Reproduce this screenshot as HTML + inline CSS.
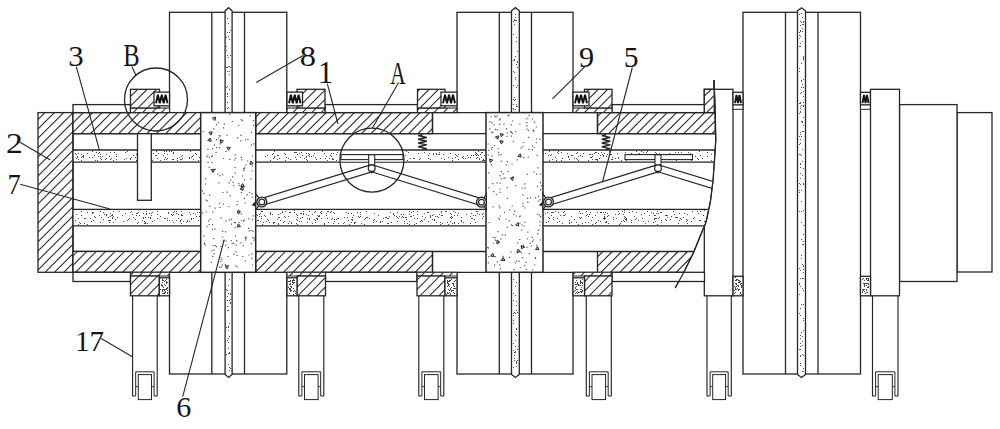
<!DOCTYPE html>
<html><head><meta charset="utf-8"><style>html,body{margin:0;padding:0;background:#fff;overflow:hidden}svg{display:block}</style></head>
<body><svg width="1000" height="429" viewBox="0 0 1000 429"><defs><clipPath id="c1"><rect x="38" y="112.6" width="35" height="159.70000000000002"/></clipPath><clipPath id="c2"><rect x="73" y="112.6" width="127.69999999999999" height="21.099999999999994"/></clipPath><clipPath id="c3"><rect x="255.7" y="112.6" width="176.8" height="21.099999999999994"/></clipPath><clipPath id="c4"><rect x="597.5" y="112.6" width="117.70000000000005" height="21.099999999999994"/></clipPath><clipPath id="c5"><rect x="73" y="251.5" width="127.69999999999999" height="20.80000000000001"/></clipPath><clipPath id="c6"><rect x="255.7" y="251.5" width="176.8" height="20.80000000000001"/></clipPath><clipPath id="cb"><polygon points="597.5,251.5 694.0,251.5 683.8,272.3 597.5,272.3"/></clipPath><clipPath id="ca"><circle cx="371.9" cy="160.1" r="31.5"/></clipPath><clipPath id="cbr"><rect x="530" y="140" width="182" height="80"/></clipPath><clipPath id="c8"><rect x="130.5" y="108" width="39.0" height="4.599999999999994"/></clipPath><clipPath id="c9"><rect x="130.5" y="89.3" width="29.0" height="18.700000000000003"/></clipPath><clipPath id="c10"><rect x="287" y="108" width="38" height="4.599999999999994"/></clipPath><clipPath id="c11"><rect x="297" y="89.3" width="28" height="18.700000000000003"/></clipPath><clipPath id="c12"><rect x="417.5" y="108" width="39.5" height="4.599999999999994"/></clipPath><clipPath id="c13"><rect x="417.5" y="89.3" width="27.5" height="18.700000000000003"/></clipPath><clipPath id="c14"><rect x="573" y="108" width="39" height="4.599999999999994"/></clipPath><clipPath id="c15"><rect x="584.5" y="89.3" width="27.5" height="18.700000000000003"/></clipPath><clipPath id="c16"><rect x="704.3" y="89.3" width="9.900000000000091" height="23.299999999999997"/></clipPath><clipPath id="c17"><rect x="130.5" y="272.3" width="39.0" height="3.6999999999999886"/></clipPath><clipPath id="c18"><rect x="130.5" y="276" width="28.80000000000001" height="19.80000000000001"/></clipPath><clipPath id="c19"><rect x="287" y="272.3" width="38.5" height="3.6999999999999886"/></clipPath><clipPath id="c20"><rect x="297" y="276" width="28.5" height="19.80000000000001"/></clipPath><clipPath id="c21"><rect x="417" y="272.3" width="40" height="3.6999999999999886"/></clipPath><clipPath id="c22"><rect x="417" y="276" width="28" height="19.80000000000001"/></clipPath><clipPath id="c23"><rect x="573" y="272.3" width="39" height="3.6999999999999886"/></clipPath><clipPath id="c24"><rect x="584.5" y="276" width="27.5" height="19.80000000000001"/></clipPath></defs><rect width="1000" height="429" fill="#fff"/><rect x="169.50" y="12.30" width="117.30" height="361.70" fill="#fff" stroke="#262626" stroke-width="1.3"/><line x1="211.80" y1="12.30" x2="211.80" y2="374.00" stroke="#262626" stroke-width="1.3"/><line x1="244.50" y1="12.30" x2="244.50" y2="374.00" stroke="#262626" stroke-width="1.3"/><polygon points="225.1,10.8 228.6,7.7 232.1,10.8 232.1,374.5 228.6,377.5 225.1,374.5" fill="#fff" stroke="#262626" stroke-width="1.3"/><path fill="#555" d="M227 67h1v1h-1zM229 39h1v1h-1zM228 144h1v1h-1zM226 195h1v1h-1zM226 169h1v1h-1zM226 46h1v1h-1zM228 310h1v1h-1zM227 93h1v1h-1zM229 353h1v1h-1zM228 155h1v1h-1zM230 30h1v1h-1zM230 117h1v1h-1zM227 55h1v1h-1zM227 306h1v1h-1zM227 222h1v1h-1zM229 147h1v1h-1zM228 36h1v1h-1zM226 87h1v1h-1zM229 167h1v1h-1zM227 223h1v1h-1zM228 121h1v1h-1zM229 264h1v1h-1zM227 219h1v1h-1zM228 327h1v1h-1zM229 116h1v1h-1zM230 55h1v1h-1zM228 285h1v1h-1zM227 189h1v1h-1zM226 253h1v1h-1zM229 219h1v1h-1zM230 126h1v1h-1zM229 226h1v1h-1zM228 177h1v1h-1zM229 352h1v1h-1zM228 251h1v1h-1zM226 265h1v1h-1zM229 370h1v1h-1zM229 115h1v1h-1zM228 253h1v1h-1zM226 179h1v1h-1zM227 55h1v1h-1zM226 289h1v1h-1zM227 102h1v1h-1zM228 326h1v1h-1zM226 174h1v1h-1zM228 330h1v1h-1zM229 323h1v1h-1zM227 162h1v1h-1zM228 330h1v1h-1zM230 67h1v1h-1zM227 96h1v1h-1zM227 187h1v1h-1zM228 107h1v1h-1zM226 163h1v1h-1zM228 216h1v1h-1zM230 261h1v1h-1zM228 235h1v1h-1zM229 32h1v1h-1zM230 293h1v1h-1zM230 299h1v1h-1zM228 156h1v1h-1zM227 241h1v1h-1zM226 37h1v1h-1zM227 71h1v1h-1zM227 32h1v1h-1zM226 67h1v1h-1zM227 144h1v1h-1zM226 327h1v1h-1zM229 66h1v1h-1zM227 138h1v1h-1zM228 57h1v1h-1zM229 370h1v1h-1zM228 187h1v1h-1zM226 50h1v1h-1zM227 108h1v1h-1zM229 71h1v1h-1zM226 354h1v1h-1zM228 66h1v1h-1zM228 23h1v1h-1zM228 364h1v1h-1zM230 263h1v1h-1zM227 145h1v1h-1zM227 290h1v1h-1zM228 293h1v1h-1zM227 93h1v1h-1zM229 367h1v1h-1zM230 302h1v1h-1zM229 279h1v1h-1zM227 199h1v1h-1zM228 23h1v1h-1zM226 113h1v1h-1zM227 262h1v1h-1zM230 174h1v1h-1zM230 368h1v1h-1zM230 144h1v1h-1zM227 94h1v1h-1zM227 86h1v1h-1zM229 336h1v1h-1zM229 185h1v1h-1zM229 300h1v1h-1zM226 250h1v1h-1zM230 294h1v1h-1zM229 185h1v1h-1zM227 296h1v1h-1zM227 300h1v1h-1zM230 155h1v1h-1zM228 353h1v1h-1zM229 74h1v1h-1zM227 67h1v1h-1zM230 303h1v1h-1zM227 310h1v1h-1zM230 249h1v1h-1zM228 210h1v1h-1zM227 18h1v1h-1zM230 246h1v1h-1zM228 348h1v1h-1zM228 326h1v1h-1zM229 89h1v1h-1zM227 118h1v1h-1zM227 224h1v1h-1zM227 163h1v1h-1zM227 340h1v1h-1zM228 177h1v1h-1zM228 338h1v1h-1zM228 342h1v1h-1zM228 204h1v1h-1z"/><rect x="457.00" y="12.30" width="116.00" height="361.70" fill="#fff" stroke="#262626" stroke-width="1.3"/><line x1="499.30" y1="12.30" x2="499.30" y2="374.00" stroke="#262626" stroke-width="1.3"/><line x1="531.50" y1="12.30" x2="531.50" y2="374.00" stroke="#262626" stroke-width="1.3"/><polygon points="511.5,10.8 515.4,7.7 519.3,10.8 519.3,374.5 515.4,377.5 511.5,374.5" fill="#fff" stroke="#262626" stroke-width="1.3"/><path fill="#555" d="M515 20h1v1h-1zM515 79h1v1h-1zM513 300h1v1h-1zM513 183h1v1h-1zM516 213h1v1h-1zM514 199h1v1h-1zM515 295h1v1h-1zM513 214h1v1h-1zM514 112h1v1h-1zM516 195h1v1h-1zM515 286h1v1h-1zM517 172h1v1h-1zM515 194h1v1h-1zM515 262h1v1h-1zM515 204h1v1h-1zM515 351h1v1h-1zM516 328h1v1h-1zM517 106h1v1h-1zM515 352h1v1h-1zM517 62h1v1h-1zM513 172h1v1h-1zM513 99h1v1h-1zM513 253h1v1h-1zM516 335h1v1h-1zM513 270h1v1h-1zM516 64h1v1h-1zM517 360h1v1h-1zM514 355h1v1h-1zM514 188h1v1h-1zM517 312h1v1h-1zM513 168h1v1h-1zM515 135h1v1h-1zM513 127h1v1h-1zM516 20h1v1h-1zM515 171h1v1h-1zM513 132h1v1h-1zM515 197h1v1h-1zM513 367h1v1h-1zM516 362h1v1h-1zM513 108h1v1h-1zM513 293h1v1h-1zM514 60h1v1h-1zM515 340h1v1h-1zM516 106h1v1h-1zM513 343h1v1h-1zM515 264h1v1h-1zM513 34h1v1h-1zM516 166h1v1h-1zM513 350h1v1h-1zM516 301h1v1h-1zM513 320h1v1h-1zM513 323h1v1h-1zM515 135h1v1h-1zM515 346h1v1h-1zM514 59h1v1h-1zM515 99h1v1h-1zM513 71h1v1h-1zM513 85h1v1h-1zM514 122h1v1h-1zM516 117h1v1h-1zM515 77h1v1h-1zM514 20h1v1h-1zM514 19h1v1h-1zM516 211h1v1h-1zM513 183h1v1h-1zM517 51h1v1h-1zM516 168h1v1h-1zM515 313h1v1h-1zM514 195h1v1h-1zM516 366h1v1h-1zM514 312h1v1h-1zM516 241h1v1h-1zM514 138h1v1h-1zM513 60h1v1h-1zM513 279h1v1h-1zM514 72h1v1h-1zM513 315h1v1h-1zM517 254h1v1h-1zM514 100h1v1h-1zM514 178h1v1h-1zM513 173h1v1h-1zM514 358h1v1h-1zM517 209h1v1h-1zM514 360h1v1h-1zM514 141h1v1h-1zM513 150h1v1h-1zM515 193h1v1h-1zM513 194h1v1h-1zM513 108h1v1h-1zM513 156h1v1h-1zM513 21h1v1h-1zM514 97h1v1h-1zM515 203h1v1h-1zM516 249h1v1h-1zM516 329h1v1h-1zM514 130h1v1h-1zM517 67h1v1h-1zM516 244h1v1h-1zM513 313h1v1h-1zM517 238h1v1h-1zM516 305h1v1h-1zM513 201h1v1h-1zM515 313h1v1h-1zM516 310h1v1h-1zM515 334h1v1h-1zM516 262h1v1h-1zM514 24h1v1h-1zM513 142h1v1h-1zM513 313h1v1h-1zM515 238h1v1h-1zM516 257h1v1h-1zM515 14h1v1h-1zM516 282h1v1h-1zM515 205h1v1h-1zM516 37h1v1h-1zM516 104h1v1h-1zM513 108h1v1h-1zM516 87h1v1h-1zM516 363h1v1h-1zM515 150h1v1h-1zM515 258h1v1h-1zM516 234h1v1h-1zM516 41h1v1h-1zM513 104h1v1h-1zM516 122h1v1h-1zM515 17h1v1h-1zM513 109h1v1h-1zM516 261h1v1h-1zM516 117h1v1h-1zM515 180h1v1h-1zM515 56h1v1h-1zM517 85h1v1h-1zM517 349h1v1h-1zM513 178h1v1h-1zM516 361h1v1h-1zM515 109h1v1h-1zM514 352h1v1h-1zM514 222h1v1h-1zM513 201h1v1h-1zM517 61h1v1h-1zM516 196h1v1h-1z"/><rect x="743.00" y="12.30" width="117.50" height="361.70" fill="#fff" stroke="#262626" stroke-width="1.3"/><line x1="785.50" y1="12.30" x2="785.50" y2="374.00" stroke="#262626" stroke-width="1.3"/><line x1="818.00" y1="12.30" x2="818.00" y2="374.00" stroke="#262626" stroke-width="1.3"/><polygon points="797.5,10.8 801.5,7.7 805.5,10.8 805.5,374.5 801.5,377.5 797.5,374.5" fill="#fff" stroke="#262626" stroke-width="1.3"/><path fill="#555" d="M803 265h1v1h-1zM800 335h1v1h-1zM801 22h1v1h-1zM799 190h1v1h-1zM801 121h1v1h-1zM799 136h1v1h-1zM800 315h1v1h-1zM799 283h1v1h-1zM803 56h1v1h-1zM803 269h1v1h-1zM803 117h1v1h-1zM800 154h1v1h-1zM803 225h1v1h-1zM800 167h1v1h-1zM800 30h1v1h-1zM799 313h1v1h-1zM800 349h1v1h-1zM800 108h1v1h-1zM801 81h1v1h-1zM800 356h1v1h-1zM803 304h1v1h-1zM802 341h1v1h-1zM803 210h1v1h-1zM802 31h1v1h-1zM802 175h1v1h-1zM802 244h1v1h-1zM800 31h1v1h-1zM803 59h1v1h-1zM801 136h1v1h-1zM800 278h1v1h-1zM803 106h1v1h-1zM802 121h1v1h-1zM801 155h1v1h-1zM799 71h1v1h-1zM800 338h1v1h-1zM801 92h1v1h-1zM803 371h1v1h-1zM801 63h1v1h-1zM799 46h1v1h-1zM800 46h1v1h-1zM800 106h1v1h-1zM801 332h1v1h-1zM802 161h1v1h-1zM801 201h1v1h-1zM800 134h1v1h-1zM799 113h1v1h-1zM803 58h1v1h-1zM801 239h1v1h-1zM803 91h1v1h-1zM800 102h1v1h-1zM800 173h1v1h-1zM803 318h1v1h-1zM803 21h1v1h-1zM799 268h1v1h-1zM803 183h1v1h-1zM801 13h1v1h-1zM800 346h1v1h-1zM803 320h1v1h-1zM803 102h1v1h-1zM799 68h1v1h-1zM801 258h1v1h-1zM803 272h1v1h-1zM802 288h1v1h-1zM801 211h1v1h-1zM799 294h1v1h-1zM800 343h1v1h-1zM802 122h1v1h-1zM799 103h1v1h-1zM802 264h1v1h-1zM799 38h1v1h-1zM801 222h1v1h-1zM800 93h1v1h-1zM802 17h1v1h-1zM800 178h1v1h-1zM803 244h1v1h-1zM803 184h1v1h-1zM800 102h1v1h-1zM803 266h1v1h-1zM800 21h1v1h-1zM801 255h1v1h-1zM801 105h1v1h-1zM802 345h1v1h-1zM800 25h1v1h-1zM800 164h1v1h-1zM802 84h1v1h-1zM802 278h1v1h-1zM801 87h1v1h-1zM803 125h1v1h-1zM803 96h1v1h-1zM800 286h1v1h-1zM800 355h1v1h-1zM801 80h1v1h-1zM800 163h1v1h-1zM802 354h1v1h-1zM799 154h1v1h-1zM800 363h1v1h-1zM799 32h1v1h-1zM799 154h1v1h-1zM803 330h1v1h-1zM802 371h1v1h-1zM803 131h1v1h-1zM799 349h1v1h-1zM802 24h1v1h-1zM802 149h1v1h-1zM800 132h1v1h-1zM799 14h1v1h-1zM800 139h1v1h-1zM803 57h1v1h-1zM803 87h1v1h-1zM800 308h1v1h-1zM803 168h1v1h-1zM799 183h1v1h-1zM800 343h1v1h-1zM799 144h1v1h-1zM803 24h1v1h-1zM801 304h1v1h-1zM802 28h1v1h-1zM799 35h1v1h-1zM803 105h1v1h-1zM802 336h1v1h-1zM800 111h1v1h-1zM803 234h1v1h-1zM800 270h1v1h-1zM800 112h1v1h-1zM799 284h1v1h-1zM803 241h1v1h-1zM803 22h1v1h-1zM800 184h1v1h-1zM803 355h1v1h-1zM800 103h1v1h-1zM801 190h1v1h-1zM803 79h1v1h-1zM803 278h1v1h-1zM803 290h1v1h-1zM802 131h1v1h-1zM800 143h1v1h-1zM802 41h1v1h-1zM799 283h1v1h-1zM800 36h1v1h-1zM799 211h1v1h-1zM800 365h1v1h-1zM803 368h1v1h-1zM800 43h1v1h-1zM799 192h1v1h-1z"/><rect x="704.30" y="89.30" width="28.70" height="206.50" fill="#fff" stroke="#262626" stroke-width="1.3"/><polygon points="38,112.6 715.2,112.6 715.2,113 715.3,116 715.4,119 715.4,122 715.5,125 715.5,128 715.6,131 715.7,134 715.7,137 715.8,140 715.6,143 715.4,146 715.2,149 715.0,152 714.8,155 714.6,158 714.4,161 714.2,164 714.0,167 713.8,170 713.6,173 713.4,176 713.2,179 712.8,182 712.5,185 712.1,188 711.7,191 711.3,194 710.9,197 710.6,200 710.1,203 709.5,206 708.8,209 708.2,212 707.6,215 706.9,218 706.3,221 705.3,224 704.0,227 702.7,230 701.5,233 700.2,236 699.0,239 697.8,242 696.6,245 695.4,248 694.2,251 692.9,254 691.4,257 689.9,260 688.4,263 686.9,266 685.4,269 683.8,272.3 38,272.3" fill="#fff"/><rect x="38.00" y="112.60" width="35.00" height="159.70" fill="#fff"/><g clip-path="url(#c1)" stroke="#262626" stroke-width="1.05"><line x1="-124.20" y1="272.30" x2="35.50" y2="112.60"/><line x1="-114.80" y1="272.30" x2="44.90" y2="112.60"/><line x1="-105.40" y1="272.30" x2="54.30" y2="112.60"/><line x1="-96.00" y1="272.30" x2="63.70" y2="112.60"/><line x1="-86.60" y1="272.30" x2="73.10" y2="112.60"/><line x1="-77.20" y1="272.30" x2="82.50" y2="112.60"/><line x1="-67.80" y1="272.30" x2="91.90" y2="112.60"/><line x1="-58.40" y1="272.30" x2="101.30" y2="112.60"/><line x1="-49.00" y1="272.30" x2="110.70" y2="112.60"/><line x1="-39.60" y1="272.30" x2="120.10" y2="112.60"/><line x1="-30.20" y1="272.30" x2="129.50" y2="112.60"/><line x1="-20.80" y1="272.30" x2="138.90" y2="112.60"/><line x1="-11.40" y1="272.30" x2="148.30" y2="112.60"/><line x1="-2.00" y1="272.30" x2="157.70" y2="112.60"/><line x1="7.40" y1="272.30" x2="167.10" y2="112.60"/><line x1="16.80" y1="272.30" x2="176.50" y2="112.60"/><line x1="26.20" y1="272.30" x2="185.90" y2="112.60"/><line x1="35.60" y1="272.30" x2="195.30" y2="112.60"/><line x1="45.00" y1="272.30" x2="204.70" y2="112.60"/><line x1="54.40" y1="272.30" x2="214.10" y2="112.60"/><line x1="63.80" y1="272.30" x2="223.50" y2="112.60"/><line x1="73.20" y1="272.30" x2="232.90" y2="112.60"/></g><rect x="38.00" y="112.60" width="35.00" height="159.70" fill="none" stroke="#262626" stroke-width="1.3"/><rect x="73.00" y="150.00" width="641.71" height="12.20" fill="#fff"/><path fill="#4a4a4a" d="M527 155h1v1h-1zM224 155h1v1h-1zM470 157h1v1h-1zM552 159h1v1h-1zM498 152h1v1h-1zM611 154h1v1h-1zM436 154h1v1h-1zM545 153h1v1h-1zM232 153h1v1h-1zM172 159h1v1h-1zM443 154h1v1h-1zM327 160h1v1h-1zM398 153h1v1h-1zM590 157h1v1h-1zM707 152h1v1h-1zM377 159h1v1h-1zM611 159h1v1h-1zM100 154h1v1h-1zM150 153h1v1h-1zM695 156h1v1h-1zM668 154h1v1h-1zM627 155h1v1h-1zM240 158h1v1h-1zM678 152h1v1h-1zM455 157h1v1h-1zM213 154h1v1h-1zM164 153h1v1h-1zM237 157h1v1h-1zM490 153h1v1h-1zM81 154h1v1h-1zM507 153h1v1h-1zM273 153h1v1h-1zM582 156h1v1h-1zM114 152h1v1h-1zM326 156h1v1h-1zM482 152h1v1h-1zM179 157h1v1h-1zM336 154h1v1h-1zM270 160h1v1h-1zM274 156h1v1h-1zM302 155h1v1h-1zM626 160h1v1h-1zM306 153h1v1h-1zM539 153h1v1h-1zM78 159h1v1h-1zM345 159h1v1h-1zM333 159h1v1h-1zM368 152h1v1h-1zM83 156h1v1h-1zM483 159h1v1h-1zM131 157h1v1h-1zM311 156h1v1h-1zM167 154h1v1h-1zM407 160h1v1h-1zM143 156h1v1h-1zM588 160h1v1h-1zM200 152h1v1h-1zM676 160h1v1h-1zM382 151h1v1h-1zM666 155h1v1h-1zM652 157h1v1h-1zM601 152h1v1h-1zM576 153h1v1h-1zM332 159h1v1h-1zM604 153h1v1h-1zM213 155h1v1h-1zM405 155h1v1h-1zM153 153h1v1h-1zM537 159h1v1h-1zM100 156h1v1h-1zM558 151h1v1h-1zM609 152h1v1h-1zM457 156h1v1h-1zM475 154h1v1h-1zM342 156h1v1h-1zM346 157h1v1h-1zM359 155h1v1h-1zM89 157h1v1h-1zM387 153h1v1h-1zM562 158h1v1h-1zM367 153h1v1h-1zM376 152h1v1h-1zM156 155h1v1h-1zM133 155h1v1h-1zM400 151h1v1h-1zM481 152h1v1h-1zM542 158h1v1h-1zM401 151h1v1h-1zM396 154h1v1h-1zM681 152h1v1h-1zM621 160h1v1h-1zM542 158h1v1h-1zM198 160h1v1h-1zM388 160h1v1h-1zM659 153h1v1h-1zM578 160h1v1h-1zM116 154h1v1h-1zM557 152h1v1h-1zM647 154h1v1h-1zM595 152h1v1h-1zM395 159h1v1h-1zM207 153h1v1h-1zM397 154h1v1h-1zM98 153h1v1h-1zM177 160h1v1h-1zM508 159h1v1h-1zM182 158h1v1h-1zM148 156h1v1h-1zM480 154h1v1h-1zM632 156h1v1h-1zM444 159h1v1h-1zM141 160h1v1h-1zM476 155h1v1h-1zM583 153h1v1h-1zM707 156h1v1h-1zM304 158h1v1h-1zM356 153h1v1h-1zM549 151h1v1h-1zM598 153h1v1h-1zM482 160h1v1h-1zM448 157h1v1h-1zM274 151h1v1h-1zM96 152h1v1h-1zM467 155h1v1h-1zM401 159h1v1h-1zM158 153h1v1h-1zM491 151h1v1h-1zM76 154h1v1h-1zM142 154h1v1h-1zM217 156h1v1h-1zM450 153h1v1h-1zM473 155h1v1h-1zM160 160h1v1h-1zM230 152h1v1h-1zM135 157h1v1h-1zM631 158h1v1h-1zM331 153h1v1h-1zM81 157h1v1h-1zM433 154h1v1h-1zM486 155h1v1h-1zM673 158h1v1h-1zM233 159h1v1h-1zM102 156h1v1h-1zM333 153h1v1h-1zM111 158h1v1h-1zM82 156h1v1h-1zM675 152h1v1h-1zM201 157h1v1h-1zM398 157h1v1h-1zM594 153h1v1h-1zM272 154h1v1h-1zM105 159h1v1h-1zM574 158h1v1h-1zM78 159h1v1h-1zM550 155h1v1h-1zM548 155h1v1h-1zM218 152h1v1h-1zM222 151h1v1h-1zM288 158h1v1h-1zM518 159h1v1h-1zM529 153h1v1h-1zM428 155h1v1h-1zM578 156h1v1h-1zM243 157h1v1h-1zM690 153h1v1h-1zM636 151h1v1h-1zM240 153h1v1h-1zM549 160h1v1h-1zM551 154h1v1h-1zM636 154h1v1h-1zM227 159h1v1h-1zM477 157h1v1h-1zM499 160h1v1h-1zM374 159h1v1h-1zM520 159h1v1h-1zM353 158h1v1h-1zM438 154h1v1h-1zM209 157h1v1h-1zM124 159h1v1h-1zM166 151h1v1h-1zM142 160h1v1h-1zM294 152h1v1h-1zM92 151h1v1h-1zM516 157h1v1h-1zM519 158h1v1h-1zM116 156h1v1h-1zM306 159h1v1h-1zM597 159h1v1h-1zM116 159h1v1h-1zM658 160h1v1h-1zM142 153h1v1h-1zM146 151h1v1h-1zM615 158h1v1h-1zM479 159h1v1h-1zM477 154h1v1h-1zM138 152h1v1h-1zM558 153h1v1h-1zM278 155h1v1h-1zM87 153h1v1h-1zM254 158h1v1h-1zM309 154h1v1h-1zM690 156h1v1h-1zM618 157h1v1h-1zM94 155h1v1h-1zM353 158h1v1h-1zM295 157h1v1h-1zM418 153h1v1h-1zM625 152h1v1h-1zM598 153h1v1h-1zM75 153h1v1h-1zM561 160h1v1h-1zM77 156h1v1h-1zM388 158h1v1h-1zM192 156h1v1h-1zM296 159h1v1h-1zM240 160h1v1h-1zM255 153h1v1h-1zM521 156h1v1h-1zM144 157h1v1h-1zM126 158h1v1h-1zM519 158h1v1h-1zM475 154h1v1h-1zM330 155h1v1h-1zM643 152h1v1h-1zM641 151h1v1h-1zM206 153h1v1h-1zM650 156h1v1h-1zM316 159h1v1h-1zM223 155h1v1h-1zM414 158h1v1h-1zM555 157h1v1h-1zM297 154h1v1h-1zM173 159h1v1h-1zM497 158h1v1h-1zM182 155h1v1h-1zM568 156h1v1h-1zM155 155h1v1h-1zM639 153h1v1h-1zM196 154h1v1h-1zM523 159h1v1h-1zM173 152h1v1h-1zM232 154h1v1h-1zM408 152h1v1h-1zM284 153h1v1h-1zM697 158h1v1h-1zM139 160h1v1h-1zM139 155h1v1h-1zM702 158h1v1h-1zM542 155h1v1h-1zM199 157h1v1h-1zM142 153h1v1h-1zM322 151h1v1h-1zM329 158h1v1h-1zM517 156h1v1h-1zM478 155h1v1h-1zM165 157h1v1h-1zM332 158h1v1h-1zM654 155h1v1h-1zM441 158h1v1h-1zM343 153h1v1h-1zM535 159h1v1h-1zM568 157h1v1h-1zM618 157h1v1h-1zM484 155h1v1h-1zM274 157h1v1h-1zM137 155h1v1h-1zM574 158h1v1h-1zM476 153h1v1h-1zM345 155h1v1h-1zM471 155h1v1h-1zM505 160h1v1h-1zM191 157h1v1h-1zM571 155h1v1h-1zM387 160h1v1h-1zM98 156h1v1h-1zM177 158h1v1h-1zM675 156h1v1h-1zM139 156h1v1h-1zM420 158h1v1h-1zM401 157h1v1h-1zM603 156h1v1h-1zM336 160h1v1h-1zM208 157h1v1h-1zM325 158h1v1h-1zM152 160h1v1h-1zM301 152h1v1h-1zM249 155h1v1h-1zM83 155h1v1h-1zM343 157h1v1h-1zM299 153h1v1h-1zM217 158h1v1h-1zM674 156h1v1h-1zM214 158h1v1h-1zM324 153h1v1h-1zM157 158h1v1h-1zM591 157h1v1h-1zM374 156h1v1h-1zM218 160h1v1h-1zM300 157h1v1h-1zM597 159h1v1h-1zM373 154h1v1h-1zM424 152h1v1h-1zM607 154h1v1h-1zM617 153h1v1h-1zM314 153h1v1h-1zM346 153h1v1h-1zM76 158h1v1h-1zM254 153h1v1h-1zM267 155h1v1h-1zM348 157h1v1h-1zM495 154h1v1h-1zM667 159h1v1h-1zM110 159h1v1h-1zM653 158h1v1h-1zM164 159h1v1h-1zM478 151h1v1h-1zM81 160h1v1h-1zM493 153h1v1h-1zM139 152h1v1h-1zM223 158h1v1h-1zM295 152h1v1h-1zM651 158h1v1h-1zM181 159h1v1h-1zM463 158h1v1h-1zM501 159h1v1h-1zM577 159h1v1h-1zM200 157h1v1h-1zM413 158h1v1h-1zM354 159h1v1h-1zM429 153h1v1h-1zM224 152h1v1h-1zM389 152h1v1h-1zM372 152h1v1h-1zM388 156h1v1h-1zM419 159h1v1h-1zM78 159h1v1h-1zM373 156h1v1h-1zM499 159h1v1h-1zM313 155h1v1h-1zM688 152h1v1h-1zM481 157h1v1h-1zM92 157h1v1h-1zM510 160h1v1h-1zM285 160h1v1h-1zM400 155h1v1h-1zM647 151h1v1h-1zM533 157h1v1h-1zM290 159h1v1h-1zM308 155h1v1h-1zM410 158h1v1h-1zM209 155h1v1h-1zM344 156h1v1h-1zM602 154h1v1h-1zM603 155h1v1h-1zM396 153h1v1h-1zM397 160h1v1h-1zM492 158h1v1h-1zM285 154h1v1h-1zM265 156h1v1h-1zM479 158h1v1h-1zM100 158h1v1h-1zM640 156h1v1h-1zM106 154h1v1h-1zM78 153h1v1h-1zM663 157h1v1h-1zM494 158h1v1h-1zM655 157h1v1h-1zM468 157h1v1h-1zM519 156h1v1h-1zM509 153h1v1h-1zM500 155h1v1h-1zM561 152h1v1h-1zM190 151h1v1h-1zM569 159h1v1h-1zM493 154h1v1h-1zM599 158h1v1h-1zM433 153h1v1h-1zM267 155h1v1h-1zM277 155h1v1h-1zM484 160h1v1h-1zM109 156h1v1h-1zM99 152h1v1h-1zM592 156h1v1h-1zM661 155h1v1h-1zM83 155h1v1h-1zM452 160h1v1h-1zM700 155h1v1h-1zM337 152h1v1h-1zM486 153h1v1h-1zM171 151h1v1h-1zM77 157h1v1h-1zM152 160h1v1h-1zM130 159h1v1h-1zM156 151h1v1h-1zM533 153h1v1h-1zM543 153h1v1h-1zM106 158h1v1h-1zM530 159h1v1h-1zM540 152h1v1h-1zM476 158h1v1h-1zM368 160h1v1h-1zM236 160h1v1h-1zM532 151h1v1h-1zM83 157h1v1h-1zM596 152h1v1h-1zM273 158h1v1h-1zM180 159h1v1h-1zM385 152h1v1h-1zM309 156h1v1h-1zM354 157h1v1h-1zM167 158h1v1h-1zM306 157h1v1h-1zM476 155h1v1h-1zM320 158h1v1h-1zM678 158h1v1h-1zM436 154h1v1h-1zM113 160h1v1h-1zM523 159h1v1h-1zM286 157h1v1h-1zM698 159h1v1h-1zM458 154h1v1h-1zM348 159h1v1h-1zM315 157h1v1h-1zM458 159h1v1h-1zM590 154h1v1h-1zM75 153h1v1h-1zM344 156h1v1h-1zM595 159h1v1h-1zM101 159h1v1h-1zM592 159h1v1h-1zM439 154h1v1h-1zM618 158h1v1h-1zM511 159h1v1h-1zM296 152h1v1h-1zM428 158h1v1h-1zM202 158h1v1h-1zM669 153h1v1h-1zM462 157h1v1h-1zM371 153h1v1h-1zM237 158h1v1h-1zM580 155h1v1h-1zM130 158h1v1h-1zM567 153h1v1h-1zM444 159h1v1h-1zM639 156h1v1h-1zM378 156h1v1h-1zM195 153h1v1h-1zM189 157h1v1h-1zM306 156h1v1h-1zM331 156h1v1h-1zM169 151h1v1h-1zM711 154h1v1h-1zM142 157h1v1h-1zM577 152h1v1h-1zM455 154h1v1h-1zM406 151h1v1h-1zM95 160h1v1h-1zM627 155h1v1h-1zM436 153h1v1h-1zM572 155h1v1h-1zM679 158h1v1h-1zM597 160h1v1h-1zM236 151h1v1h-1zM202 153h1v1h-1zM127 151h1v1h-1zM430 159h1v1h-1zM367 160h1v1h-1zM655 152h1v1h-1zM456 155h1v1h-1zM151 160h1v1h-1zM238 156h1v1h-1zM483 160h1v1h-1zM502 155h1v1h-1zM360 152h1v1h-1zM691 160h1v1h-1zM216 151h1v1h-1zM237 154h1v1h-1zM651 159h1v1h-1zM609 151h1v1h-1zM576 158h1v1h-1zM487 160h1v1h-1zM110 152h1v1h-1zM556 160h1v1h-1zM506 154h1v1h-1zM452 158h1v1h-1zM141 154h1v1h-1zM238 152h1v1h-1zM381 153h1v1h-1zM226 152h1v1h-1zM507 151h1v1h-1zM532 153h1v1h-1zM97 160h1v1h-1zM215 160h1v1h-1zM628 159h1v1h-1zM163 155h1v1h-1zM136 160h1v1h-1zM612 157h1v1h-1zM363 154h1v1h-1zM600 155h1v1h-1zM475 152h1v1h-1zM216 152h1v1h-1zM530 156h1v1h-1zM166 159h1v1h-1zM244 155h1v1h-1zM173 153h1v1h-1zM610 154h1v1h-1zM181 156h1v1h-1zM277 159h1v1h-1zM147 160h1v1h-1zM110 159h1v1h-1zM501 153h1v1h-1zM379 154h1v1h-1zM239 153h1v1h-1zM307 160h1v1h-1zM711 160h1v1h-1zM136 154h1v1h-1zM646 152h1v1h-1zM538 154h1v1h-1zM699 151h1v1h-1zM589 154h1v1h-1zM164 151h1v1h-1zM606 156h1v1h-1zM193 155h1v1h-1zM656 153h1v1h-1zM439 152h1v1h-1zM189 158h1v1h-1zM529 153h1v1h-1zM125 152h1v1h-1zM463 156h1v1h-1zM249 153h1v1h-1zM465 158h1v1h-1zM592 156h1v1h-1zM203 152h1v1h-1zM542 155h1v1h-1zM535 152h1v1h-1zM592 154h1v1h-1zM612 159h1v1h-1zM389 151h1v1h-1zM655 155h1v1h-1zM631 153h1v1h-1zM193 159h1v1h-1zM308 153h1v1h-1zM311 156h1v1h-1zM77 156h1v1h-1zM359 156h1v1h-1zM151 158h1v1h-1zM596 159h1v1h-1zM279 158h1v1h-1z"/><line x1="73.00" y1="150.00" x2="715.12" y2="150.00" stroke="#262626" stroke-width="1.3"/><line x1="73.00" y1="162.20" x2="714.30" y2="162.20" stroke="#262626" stroke-width="1.3"/><rect x="73.00" y="209.40" width="634.02" height="16.40" fill="#fff"/><path fill="#4a4a4a" d="M315 220h1v1h-1zM113 222h1v1h-1zM676 217h1v1h-1zM398 218h1v1h-1zM413 211h1v1h-1zM684 213h1v1h-1zM189 212h1v1h-1zM232 221h1v1h-1zM93 212h1v1h-1zM515 213h1v1h-1zM85 218h1v1h-1zM438 217h1v1h-1zM517 212h1v1h-1zM623 220h1v1h-1zM103 212h1v1h-1zM385 217h1v1h-1zM250 212h1v1h-1zM330 212h1v1h-1zM447 222h1v1h-1zM167 218h1v1h-1zM545 213h1v1h-1zM595 223h1v1h-1zM319 216h1v1h-1zM604 217h1v1h-1zM324 223h1v1h-1zM564 215h1v1h-1zM226 215h1v1h-1zM349 224h1v1h-1zM582 223h1v1h-1zM588 222h1v1h-1zM108 217h1v1h-1zM678 223h1v1h-1zM231 216h1v1h-1zM473 215h1v1h-1zM409 211h1v1h-1zM347 217h1v1h-1zM87 212h1v1h-1zM686 221h1v1h-1zM665 219h1v1h-1zM585 222h1v1h-1zM632 211h1v1h-1zM479 214h1v1h-1zM502 214h1v1h-1zM416 223h1v1h-1zM466 214h1v1h-1zM402 216h1v1h-1zM674 214h1v1h-1zM267 219h1v1h-1zM150 218h1v1h-1zM677 217h1v1h-1zM243 217h1v1h-1zM411 212h1v1h-1zM152 212h1v1h-1zM259 216h1v1h-1zM256 214h1v1h-1zM129 218h1v1h-1zM604 219h1v1h-1zM434 219h1v1h-1zM201 220h1v1h-1zM365 218h1v1h-1zM461 217h1v1h-1zM270 214h1v1h-1zM214 217h1v1h-1zM316 218h1v1h-1zM81 215h1v1h-1zM618 214h1v1h-1zM425 217h1v1h-1zM254 224h1v1h-1zM260 221h1v1h-1zM174 211h1v1h-1zM624 216h1v1h-1zM113 216h1v1h-1zM352 220h1v1h-1zM143 213h1v1h-1zM679 220h1v1h-1zM172 215h1v1h-1zM296 219h1v1h-1zM463 222h1v1h-1zM592 217h1v1h-1zM540 220h1v1h-1zM553 217h1v1h-1zM569 220h1v1h-1zM651 212h1v1h-1zM624 210h1v1h-1zM557 218h1v1h-1zM388 223h1v1h-1zM435 216h1v1h-1zM569 222h1v1h-1zM457 215h1v1h-1zM359 217h1v1h-1zM530 214h1v1h-1zM321 218h1v1h-1zM317 215h1v1h-1zM571 222h1v1h-1zM389 216h1v1h-1zM190 214h1v1h-1zM165 218h1v1h-1zM441 212h1v1h-1zM655 215h1v1h-1zM606 222h1v1h-1zM679 213h1v1h-1zM343 223h1v1h-1zM81 211h1v1h-1zM430 217h1v1h-1zM655 221h1v1h-1zM414 224h1v1h-1zM401 217h1v1h-1zM506 216h1v1h-1zM300 218h1v1h-1zM296 223h1v1h-1zM501 217h1v1h-1zM136 215h1v1h-1zM327 218h1v1h-1zM436 222h1v1h-1zM683 217h1v1h-1zM352 219h1v1h-1zM703 215h1v1h-1zM409 221h1v1h-1zM182 215h1v1h-1zM691 221h1v1h-1zM397 212h1v1h-1zM638 220h1v1h-1zM592 224h1v1h-1zM634 216h1v1h-1zM173 214h1v1h-1zM397 217h1v1h-1zM193 213h1v1h-1zM472 218h1v1h-1zM297 224h1v1h-1zM476 211h1v1h-1zM334 221h1v1h-1zM268 220h1v1h-1zM76 214h1v1h-1zM605 218h1v1h-1zM496 213h1v1h-1zM388 218h1v1h-1zM242 219h1v1h-1zM409 224h1v1h-1zM437 216h1v1h-1zM151 213h1v1h-1zM553 212h1v1h-1zM137 213h1v1h-1zM404 221h1v1h-1zM461 221h1v1h-1zM113 211h1v1h-1zM560 215h1v1h-1zM525 215h1v1h-1zM181 214h1v1h-1zM137 223h1v1h-1zM441 215h1v1h-1zM358 216h1v1h-1zM109 222h1v1h-1zM442 223h1v1h-1zM351 219h1v1h-1zM231 211h1v1h-1zM661 222h1v1h-1zM273 222h1v1h-1zM589 214h1v1h-1zM454 223h1v1h-1zM387 223h1v1h-1zM227 216h1v1h-1zM527 213h1v1h-1zM269 222h1v1h-1zM380 221h1v1h-1zM228 213h1v1h-1zM300 213h1v1h-1zM687 214h1v1h-1zM428 212h1v1h-1zM411 216h1v1h-1zM328 211h1v1h-1zM152 221h1v1h-1zM296 214h1v1h-1zM195 214h1v1h-1zM224 211h1v1h-1zM493 215h1v1h-1zM172 220h1v1h-1zM132 214h1v1h-1zM601 212h1v1h-1zM354 222h1v1h-1zM582 213h1v1h-1zM297 220h1v1h-1zM312 223h1v1h-1zM205 223h1v1h-1zM393 213h1v1h-1zM360 212h1v1h-1zM520 214h1v1h-1zM642 218h1v1h-1zM306 214h1v1h-1zM458 213h1v1h-1zM624 212h1v1h-1zM398 218h1v1h-1zM245 221h1v1h-1zM317 219h1v1h-1zM432 215h1v1h-1zM320 212h1v1h-1zM186 222h1v1h-1zM277 219h1v1h-1zM143 218h1v1h-1zM302 217h1v1h-1zM261 211h1v1h-1zM270 213h1v1h-1zM154 220h1v1h-1zM252 216h1v1h-1zM648 221h1v1h-1zM631 222h1v1h-1zM157 214h1v1h-1zM93 220h1v1h-1zM493 215h1v1h-1zM334 219h1v1h-1zM515 214h1v1h-1zM608 215h1v1h-1zM471 213h1v1h-1zM147 223h1v1h-1zM537 220h1v1h-1zM100 211h1v1h-1zM176 213h1v1h-1zM265 216h1v1h-1zM99 215h1v1h-1zM477 213h1v1h-1zM604 218h1v1h-1zM526 214h1v1h-1zM348 220h1v1h-1zM294 210h1v1h-1zM600 221h1v1h-1zM255 211h1v1h-1zM613 219h1v1h-1zM104 214h1v1h-1zM144 221h1v1h-1zM207 223h1v1h-1zM547 212h1v1h-1zM512 216h1v1h-1zM546 222h1v1h-1zM251 212h1v1h-1zM671 216h1v1h-1zM661 220h1v1h-1zM540 222h1v1h-1zM470 216h1v1h-1zM108 220h1v1h-1zM344 217h1v1h-1zM660 212h1v1h-1zM555 211h1v1h-1zM517 221h1v1h-1zM239 218h1v1h-1zM686 219h1v1h-1zM417 214h1v1h-1zM111 215h1v1h-1zM334 213h1v1h-1zM270 212h1v1h-1zM520 219h1v1h-1zM224 214h1v1h-1zM399 216h1v1h-1zM665 215h1v1h-1zM263 222h1v1h-1zM164 218h1v1h-1zM284 221h1v1h-1zM420 221h1v1h-1zM181 219h1v1h-1zM452 217h1v1h-1zM557 222h1v1h-1zM146 214h1v1h-1zM301 213h1v1h-1zM112 214h1v1h-1zM198 220h1v1h-1zM357 212h1v1h-1zM279 217h1v1h-1zM303 213h1v1h-1zM119 211h1v1h-1zM700 220h1v1h-1zM127 220h1v1h-1zM693 218h1v1h-1zM143 217h1v1h-1zM348 213h1v1h-1zM417 211h1v1h-1zM654 219h1v1h-1zM470 223h1v1h-1zM486 214h1v1h-1zM229 212h1v1h-1zM91 221h1v1h-1zM604 214h1v1h-1zM191 219h1v1h-1zM608 223h1v1h-1zM180 221h1v1h-1zM598 220h1v1h-1zM280 213h1v1h-1zM595 215h1v1h-1zM307 218h1v1h-1zM307 222h1v1h-1zM225 211h1v1h-1zM432 219h1v1h-1zM591 220h1v1h-1zM645 223h1v1h-1zM386 217h1v1h-1zM173 214h1v1h-1zM441 211h1v1h-1zM508 213h1v1h-1zM354 223h1v1h-1zM131 211h1v1h-1zM351 213h1v1h-1zM530 210h1v1h-1zM605 222h1v1h-1zM571 216h1v1h-1zM253 219h1v1h-1zM399 216h1v1h-1zM288 216h1v1h-1zM494 221h1v1h-1zM644 213h1v1h-1zM261 216h1v1h-1zM430 215h1v1h-1zM197 212h1v1h-1zM278 217h1v1h-1zM687 223h1v1h-1zM620 223h1v1h-1zM681 219h1v1h-1zM586 211h1v1h-1zM501 219h1v1h-1zM261 218h1v1h-1zM675 217h1v1h-1zM482 214h1v1h-1zM291 222h1v1h-1zM92 213h1v1h-1zM502 216h1v1h-1zM128 219h1v1h-1zM309 218h1v1h-1zM337 218h1v1h-1zM430 216h1v1h-1zM146 213h1v1h-1zM636 218h1v1h-1zM145 222h1v1h-1zM234 212h1v1h-1zM409 214h1v1h-1zM383 218h1v1h-1zM217 218h1v1h-1zM145 217h1v1h-1zM445 211h1v1h-1zM331 211h1v1h-1zM351 222h1v1h-1zM421 220h1v1h-1zM552 212h1v1h-1zM699 220h1v1h-1zM138 222h1v1h-1zM321 213h1v1h-1zM680 218h1v1h-1zM563 212h1v1h-1zM564 211h1v1h-1zM223 215h1v1h-1zM84 218h1v1h-1zM208 214h1v1h-1zM520 216h1v1h-1zM635 219h1v1h-1zM624 218h1v1h-1zM653 222h1v1h-1zM180 220h1v1h-1zM289 221h1v1h-1zM503 221h1v1h-1zM151 215h1v1h-1zM539 223h1v1h-1zM529 211h1v1h-1zM455 212h1v1h-1zM420 221h1v1h-1zM145 223h1v1h-1zM500 214h1v1h-1zM196 216h1v1h-1zM603 218h1v1h-1zM146 211h1v1h-1zM144 221h1v1h-1zM191 218h1v1h-1zM257 220h1v1h-1zM314 212h1v1h-1zM626 218h1v1h-1zM509 221h1v1h-1zM673 211h1v1h-1zM290 212h1v1h-1zM391 222h1v1h-1zM579 211h1v1h-1zM189 221h1v1h-1zM503 216h1v1h-1zM374 213h1v1h-1zM607 216h1v1h-1zM625 219h1v1h-1zM122 215h1v1h-1zM210 222h1v1h-1zM446 211h1v1h-1zM181 215h1v1h-1zM369 218h1v1h-1zM319 215h1v1h-1zM78 218h1v1h-1zM285 211h1v1h-1zM364 224h1v1h-1zM103 212h1v1h-1zM497 214h1v1h-1zM246 217h1v1h-1zM239 218h1v1h-1zM407 223h1v1h-1zM700 211h1v1h-1zM428 221h1v1h-1zM624 221h1v1h-1zM474 219h1v1h-1zM303 214h1v1h-1zM576 222h1v1h-1zM666 220h1v1h-1zM266 221h1v1h-1zM541 217h1v1h-1zM475 215h1v1h-1zM422 216h1v1h-1zM112 215h1v1h-1zM278 224h1v1h-1zM378 215h1v1h-1zM228 214h1v1h-1zM294 212h1v1h-1zM79 222h1v1h-1zM360 216h1v1h-1zM433 214h1v1h-1zM181 211h1v1h-1zM264 215h1v1h-1zM533 218h1v1h-1zM666 215h1v1h-1zM655 218h1v1h-1zM125 213h1v1h-1zM440 224h1v1h-1zM299 221h1v1h-1zM344 222h1v1h-1zM117 217h1v1h-1zM641 214h1v1h-1zM237 211h1v1h-1zM178 214h1v1h-1zM518 213h1v1h-1zM326 213h1v1h-1zM454 222h1v1h-1zM483 213h1v1h-1zM537 223h1v1h-1zM453 211h1v1h-1zM585 222h1v1h-1zM289 212h1v1h-1zM193 218h1v1h-1zM626 219h1v1h-1zM656 213h1v1h-1zM280 220h1v1h-1zM483 216h1v1h-1zM502 215h1v1h-1zM110 216h1v1h-1zM103 219h1v1h-1zM285 217h1v1h-1zM451 214h1v1h-1zM366 211h1v1h-1zM658 218h1v1h-1zM697 211h1v1h-1zM461 220h1v1h-1zM282 212h1v1h-1zM173 212h1v1h-1zM558 212h1v1h-1zM588 216h1v1h-1zM414 218h1v1h-1zM424 219h1v1h-1zM454 215h1v1h-1zM542 214h1v1h-1zM523 221h1v1h-1zM564 215h1v1h-1zM562 223h1v1h-1zM360 214h1v1h-1zM404 223h1v1h-1zM157 211h1v1h-1zM374 219h1v1h-1zM563 215h1v1h-1zM698 213h1v1h-1zM551 212h1v1h-1zM92 212h1v1h-1zM112 217h1v1h-1zM424 213h1v1h-1zM667 215h1v1h-1zM168 213h1v1h-1zM540 223h1v1h-1zM176 211h1v1h-1zM565 214h1v1h-1zM694 217h1v1h-1zM475 215h1v1h-1zM579 217h1v1h-1zM278 223h1v1h-1zM142 220h1v1h-1zM115 219h1v1h-1zM328 222h1v1h-1zM112 218h1v1h-1zM333 223h1v1h-1zM670 219h1v1h-1zM215 214h1v1h-1zM240 216h1v1h-1zM220 213h1v1h-1zM553 219h1v1h-1zM262 224h1v1h-1zM211 218h1v1h-1zM173 222h1v1h-1zM623 214h1v1h-1zM548 221h1v1h-1zM252 215h1v1h-1zM380 222h1v1h-1zM176 220h1v1h-1zM451 216h1v1h-1zM440 222h1v1h-1zM206 222h1v1h-1zM301 221h1v1h-1zM619 213h1v1h-1zM619 224h1v1h-1zM262 211h1v1h-1zM144 223h1v1h-1zM80 223h1v1h-1zM169 220h1v1h-1zM136 213h1v1h-1zM505 212h1v1h-1zM288 223h1v1h-1zM526 222h1v1h-1zM692 211h1v1h-1zM222 221h1v1h-1zM509 211h1v1h-1zM393 214h1v1h-1zM346 212h1v1h-1zM87 224h1v1h-1zM274 222h1v1h-1zM150 217h1v1h-1zM160 216h1v1h-1zM187 220h1v1h-1zM167 220h1v1h-1zM390 212h1v1h-1zM297 217h1v1h-1zM654 215h1v1h-1zM210 223h1v1h-1zM631 220h1v1h-1zM246 213h1v1h-1zM241 211h1v1h-1zM101 217h1v1h-1zM332 218h1v1h-1zM303 211h1v1h-1zM508 219h1v1h-1zM417 218h1v1h-1zM510 224h1v1h-1zM626 220h1v1h-1zM326 215h1v1h-1zM338 223h1v1h-1zM318 216h1v1h-1zM333 212h1v1h-1zM704 210h1v1h-1zM458 223h1v1h-1zM235 219h1v1h-1zM312 214h1v1h-1zM199 212h1v1h-1zM606 221h1v1h-1zM647 211h1v1h-1zM512 215h1v1h-1zM482 218h1v1h-1zM273 223h1v1h-1zM75 220h1v1h-1zM613 217h1v1h-1zM448 224h1v1h-1zM222 219h1v1h-1zM543 215h1v1h-1zM523 216h1v1h-1zM406 219h1v1h-1zM501 215h1v1h-1zM471 218h1v1h-1zM215 219h1v1h-1zM241 223h1v1h-1zM373 220h1v1h-1zM403 217h1v1h-1zM214 212h1v1h-1zM659 217h1v1h-1zM405 217h1v1h-1zM587 214h1v1h-1zM183 221h1v1h-1zM364 219h1v1h-1zM596 222h1v1h-1zM622 211h1v1h-1zM315 222h1v1h-1zM590 212h1v1h-1zM171 214h1v1h-1zM139 215h1v1h-1zM581 217h1v1h-1zM360 212h1v1h-1zM324 224h1v1h-1zM513 216h1v1h-1zM376 221h1v1h-1zM553 212h1v1h-1zM503 215h1v1h-1zM403 214h1v1h-1zM308 215h1v1h-1zM315 211h1v1h-1zM201 218h1v1h-1zM110 213h1v1h-1zM527 214h1v1h-1zM278 214h1v1h-1zM600 212h1v1h-1zM475 222h1v1h-1zM201 216h1v1h-1zM574 219h1v1h-1zM309 211h1v1h-1zM353 215h1v1h-1zM524 214h1v1h-1zM331 219h1v1h-1zM586 215h1v1h-1zM317 218h1v1h-1zM658 213h1v1h-1zM687 220h1v1h-1zM309 219h1v1h-1zM282 211h1v1h-1zM551 215h1v1h-1zM406 217h1v1h-1zM643 221h1v1h-1zM90 218h1v1h-1zM366 217h1v1h-1zM604 216h1v1h-1zM373 222h1v1h-1zM352 217h1v1h-1zM397 221h1v1h-1zM497 220h1v1h-1zM327 211h1v1h-1zM503 218h1v1h-1zM559 221h1v1h-1zM149 213h1v1h-1zM123 221h1v1h-1zM138 212h1v1h-1zM549 218h1v1h-1zM109 220h1v1h-1zM523 217h1v1h-1zM109 220h1v1h-1zM338 218h1v1h-1zM704 221h1v1h-1zM624 212h1v1h-1zM285 217h1v1h-1zM78 224h1v1h-1zM247 214h1v1h-1zM272 214h1v1h-1zM616 218h1v1h-1zM396 216h1v1h-1zM106 214h1v1h-1zM621 221h1v1h-1zM615 214h1v1h-1zM201 211h1v1h-1zM413 215h1v1h-1zM367 217h1v1h-1zM442 215h1v1h-1zM580 213h1v1h-1zM654 218h1v1h-1zM106 215h1v1h-1zM410 216h1v1h-1zM430 215h1v1h-1zM247 221h1v1h-1zM258 220h1v1h-1zM580 218h1v1h-1zM361 223h1v1h-1zM355 222h1v1h-1zM110 216h1v1h-1zM477 211h1v1h-1zM618 211h1v1h-1zM450 213h1v1h-1zM656 218h1v1h-1zM579 217h1v1h-1zM499 219h1v1h-1zM260 213h1v1h-1zM603 212h1v1h-1zM653 213h1v1h-1zM138 212h1v1h-1zM569 223h1v1h-1zM336 219h1v1h-1zM237 223h1v1h-1zM507 212h1v1h-1zM110 220h1v1h-1zM100 222h1v1h-1zM259 214h1v1h-1zM441 215h1v1h-1zM428 212h1v1h-1zM649 215h1v1h-1zM605 212h1v1h-1zM578 224h1v1h-1zM321 211h1v1h-1zM314 219h1v1h-1zM215 218h1v1h-1zM133 217h1v1h-1zM534 216h1v1h-1zM502 212h1v1h-1zM597 212h1v1h-1zM657 224h1v1h-1zM667 217h1v1h-1zM257 215h1v1h-1zM548 217h1v1h-1zM661 212h1v1h-1zM380 222h1v1h-1zM451 218h1v1h-1zM130 212h1v1h-1zM245 222h1v1h-1zM607 213h1v1h-1zM657 211h1v1h-1zM452 223h1v1h-1zM291 223h1v1h-1zM488 211h1v1h-1zM284 216h1v1h-1zM230 220h1v1h-1zM187 221h1v1h-1zM262 211h1v1h-1zM427 212h1v1h-1zM422 221h1v1h-1zM450 217h1v1h-1zM95 217h1v1h-1zM135 219h1v1h-1zM157 218h1v1h-1zM297 215h1v1h-1zM492 213h1v1h-1zM181 223h1v1h-1zM283 222h1v1h-1zM625 217h1v1h-1zM168 212h1v1h-1zM629 212h1v1h-1zM387 218h1v1h-1zM148 217h1v1h-1zM178 218h1v1h-1zM394 215h1v1h-1zM199 216h1v1h-1zM202 212h1v1h-1zM225 222h1v1h-1zM391 222h1v1h-1zM84 223h1v1h-1zM382 221h1v1h-1zM434 220h1v1h-1zM219 220h1v1h-1zM171 214h1v1h-1zM94 216h1v1h-1zM401 214h1v1h-1zM636 212h1v1h-1zM439 214h1v1h-1zM450 221h1v1h-1zM523 211h1v1h-1z"/><line x1="73.00" y1="209.40" x2="708.75" y2="209.40" stroke="#262626" stroke-width="1.3"/><line x1="73.00" y1="225.80" x2="704.51" y2="225.80" stroke="#262626" stroke-width="1.3"/><line x1="73.00" y1="133.70" x2="715.66" y2="133.70" stroke="#262626" stroke-width="1.3"/><line x1="73.00" y1="251.50" x2="693.98" y2="251.50" stroke="#262626" stroke-width="1.3"/><line x1="73.00" y1="112.60" x2="715.20" y2="112.60" stroke="#262626" stroke-width="1.3"/><line x1="73.00" y1="272.30" x2="683.75" y2="272.30" stroke="#262626" stroke-width="1.3"/><line x1="73.00" y1="112.60" x2="73.00" y2="272.30" stroke="#262626" stroke-width="1.3"/><rect x="73.00" y="112.60" width="127.70" height="21.10" fill="#fff"/><g clip-path="url(#c2)" stroke="#262626" stroke-width="1.05"><line x1="43.40" y1="133.70" x2="64.50" y2="112.60"/><line x1="52.80" y1="133.70" x2="73.90" y2="112.60"/><line x1="62.20" y1="133.70" x2="83.30" y2="112.60"/><line x1="71.60" y1="133.70" x2="92.70" y2="112.60"/><line x1="81.00" y1="133.70" x2="102.10" y2="112.60"/><line x1="90.40" y1="133.70" x2="111.50" y2="112.60"/><line x1="99.80" y1="133.70" x2="120.90" y2="112.60"/><line x1="109.20" y1="133.70" x2="130.30" y2="112.60"/><line x1="118.60" y1="133.70" x2="139.70" y2="112.60"/><line x1="128.00" y1="133.70" x2="149.10" y2="112.60"/><line x1="137.40" y1="133.70" x2="158.50" y2="112.60"/><line x1="146.80" y1="133.70" x2="167.90" y2="112.60"/><line x1="156.20" y1="133.70" x2="177.30" y2="112.60"/><line x1="165.60" y1="133.70" x2="186.70" y2="112.60"/><line x1="175.00" y1="133.70" x2="196.10" y2="112.60"/><line x1="184.40" y1="133.70" x2="205.50" y2="112.60"/><line x1="193.80" y1="133.70" x2="214.90" y2="112.60"/><line x1="203.20" y1="133.70" x2="224.30" y2="112.60"/></g><rect x="73.00" y="112.60" width="127.70" height="21.10" fill="none" stroke="#262626" stroke-width="1.3"/><rect x="255.70" y="112.60" width="176.80" height="21.10" fill="#fff"/><g clip-path="url(#c3)" stroke="#262626" stroke-width="1.05"><line x1="229.90" y1="133.70" x2="251.00" y2="112.60"/><line x1="239.30" y1="133.70" x2="260.40" y2="112.60"/><line x1="248.70" y1="133.70" x2="269.80" y2="112.60"/><line x1="258.10" y1="133.70" x2="279.20" y2="112.60"/><line x1="267.50" y1="133.70" x2="288.60" y2="112.60"/><line x1="276.90" y1="133.70" x2="298.00" y2="112.60"/><line x1="286.30" y1="133.70" x2="307.40" y2="112.60"/><line x1="295.70" y1="133.70" x2="316.80" y2="112.60"/><line x1="305.10" y1="133.70" x2="326.20" y2="112.60"/><line x1="314.50" y1="133.70" x2="335.60" y2="112.60"/><line x1="323.90" y1="133.70" x2="345.00" y2="112.60"/><line x1="333.30" y1="133.70" x2="354.40" y2="112.60"/><line x1="342.70" y1="133.70" x2="363.80" y2="112.60"/><line x1="352.10" y1="133.70" x2="373.20" y2="112.60"/><line x1="361.50" y1="133.70" x2="382.60" y2="112.60"/><line x1="370.90" y1="133.70" x2="392.00" y2="112.60"/><line x1="380.30" y1="133.70" x2="401.40" y2="112.60"/><line x1="389.70" y1="133.70" x2="410.80" y2="112.60"/><line x1="399.10" y1="133.70" x2="420.20" y2="112.60"/><line x1="408.50" y1="133.70" x2="429.60" y2="112.60"/><line x1="417.90" y1="133.70" x2="439.00" y2="112.60"/><line x1="427.30" y1="133.70" x2="448.40" y2="112.60"/><line x1="436.70" y1="133.70" x2="457.80" y2="112.60"/></g><rect x="255.70" y="112.60" width="176.80" height="21.10" fill="none" stroke="#262626" stroke-width="1.3"/><rect x="597.50" y="112.60" width="117.70" height="21.10" fill="#fff"/><g clip-path="url(#c4)" stroke="#262626" stroke-width="1.05"><line x1="570.90" y1="133.70" x2="592.00" y2="112.60"/><line x1="580.30" y1="133.70" x2="601.40" y2="112.60"/><line x1="589.70" y1="133.70" x2="610.80" y2="112.60"/><line x1="599.10" y1="133.70" x2="620.20" y2="112.60"/><line x1="608.50" y1="133.70" x2="629.60" y2="112.60"/><line x1="617.90" y1="133.70" x2="639.00" y2="112.60"/><line x1="627.30" y1="133.70" x2="648.40" y2="112.60"/><line x1="636.70" y1="133.70" x2="657.80" y2="112.60"/><line x1="646.10" y1="133.70" x2="667.20" y2="112.60"/><line x1="655.50" y1="133.70" x2="676.60" y2="112.60"/><line x1="664.90" y1="133.70" x2="686.00" y2="112.60"/><line x1="674.30" y1="133.70" x2="695.40" y2="112.60"/><line x1="683.70" y1="133.70" x2="704.80" y2="112.60"/><line x1="693.10" y1="133.70" x2="714.20" y2="112.60"/><line x1="702.50" y1="133.70" x2="723.60" y2="112.60"/><line x1="711.90" y1="133.70" x2="733.00" y2="112.60"/><line x1="721.30" y1="133.70" x2="742.40" y2="112.60"/></g><rect x="597.50" y="112.60" width="117.70" height="21.10" fill="none" stroke="#262626" stroke-width="1.3"/><rect x="73.00" y="251.50" width="127.70" height="20.80" fill="#fff"/><g clip-path="url(#c5)" stroke="#262626" stroke-width="1.05"><line x1="47.20" y1="272.30" x2="68.00" y2="251.50"/><line x1="56.60" y1="272.30" x2="77.40" y2="251.50"/><line x1="66.00" y1="272.30" x2="86.80" y2="251.50"/><line x1="75.40" y1="272.30" x2="96.20" y2="251.50"/><line x1="84.80" y1="272.30" x2="105.60" y2="251.50"/><line x1="94.20" y1="272.30" x2="115.00" y2="251.50"/><line x1="103.60" y1="272.30" x2="124.40" y2="251.50"/><line x1="113.00" y1="272.30" x2="133.80" y2="251.50"/><line x1="122.40" y1="272.30" x2="143.20" y2="251.50"/><line x1="131.80" y1="272.30" x2="152.60" y2="251.50"/><line x1="141.20" y1="272.30" x2="162.00" y2="251.50"/><line x1="150.60" y1="272.30" x2="171.40" y2="251.50"/><line x1="160.00" y1="272.30" x2="180.80" y2="251.50"/><line x1="169.40" y1="272.30" x2="190.20" y2="251.50"/><line x1="178.80" y1="272.30" x2="199.60" y2="251.50"/><line x1="188.20" y1="272.30" x2="209.00" y2="251.50"/><line x1="197.60" y1="272.30" x2="218.40" y2="251.50"/><line x1="207.00" y1="272.30" x2="227.80" y2="251.50"/></g><rect x="73.00" y="251.50" width="127.70" height="20.80" fill="none" stroke="#262626" stroke-width="1.3"/><rect x="255.70" y="251.50" width="176.80" height="20.80" fill="#fff"/><g clip-path="url(#c6)" stroke="#262626" stroke-width="1.05"><line x1="227.00" y1="272.30" x2="247.80" y2="251.50"/><line x1="236.40" y1="272.30" x2="257.20" y2="251.50"/><line x1="245.80" y1="272.30" x2="266.60" y2="251.50"/><line x1="255.20" y1="272.30" x2="276.00" y2="251.50"/><line x1="264.60" y1="272.30" x2="285.40" y2="251.50"/><line x1="274.00" y1="272.30" x2="294.80" y2="251.50"/><line x1="283.40" y1="272.30" x2="304.20" y2="251.50"/><line x1="292.80" y1="272.30" x2="313.60" y2="251.50"/><line x1="302.20" y1="272.30" x2="323.00" y2="251.50"/><line x1="311.60" y1="272.30" x2="332.40" y2="251.50"/><line x1="321.00" y1="272.30" x2="341.80" y2="251.50"/><line x1="330.40" y1="272.30" x2="351.20" y2="251.50"/><line x1="339.80" y1="272.30" x2="360.60" y2="251.50"/><line x1="349.20" y1="272.30" x2="370.00" y2="251.50"/><line x1="358.60" y1="272.30" x2="379.40" y2="251.50"/><line x1="368.00" y1="272.30" x2="388.80" y2="251.50"/><line x1="377.40" y1="272.30" x2="398.20" y2="251.50"/><line x1="386.80" y1="272.30" x2="407.60" y2="251.50"/><line x1="396.20" y1="272.30" x2="417.00" y2="251.50"/><line x1="405.60" y1="272.30" x2="426.40" y2="251.50"/><line x1="415.00" y1="272.30" x2="435.80" y2="251.50"/><line x1="424.40" y1="272.30" x2="445.20" y2="251.50"/><line x1="433.80" y1="272.30" x2="454.60" y2="251.50"/></g><rect x="255.70" y="251.50" width="176.80" height="20.80" fill="none" stroke="#262626" stroke-width="1.3"/><g clip-path="url(#cb)" stroke="#262626" stroke-width="1.1"><line x1="572.70" y1="272.3" x2="593.50" y2="251.5"/><line x1="582.10" y1="272.3" x2="602.90" y2="251.5"/><line x1="591.50" y1="272.3" x2="612.30" y2="251.5"/><line x1="600.90" y1="272.3" x2="621.70" y2="251.5"/><line x1="610.30" y1="272.3" x2="631.10" y2="251.5"/><line x1="619.70" y1="272.3" x2="640.50" y2="251.5"/><line x1="629.10" y1="272.3" x2="649.90" y2="251.5"/><line x1="638.50" y1="272.3" x2="659.30" y2="251.5"/><line x1="647.90" y1="272.3" x2="668.70" y2="251.5"/><line x1="657.30" y1="272.3" x2="678.10" y2="251.5"/><line x1="666.70" y1="272.3" x2="687.50" y2="251.5"/><line x1="676.10" y1="272.3" x2="696.90" y2="251.5"/><line x1="685.50" y1="272.3" x2="706.30" y2="251.5"/><line x1="694.90" y1="272.3" x2="715.70" y2="251.5"/><line x1="704.30" y1="272.3" x2="725.10" y2="251.5"/></g><line x1="597.50" y1="251.50" x2="597.50" y2="272.30" stroke="#262626" stroke-width="1.3"/><line x1="432.50" y1="112.60" x2="432.50" y2="133.70" stroke="#262626" stroke-width="1.3"/><line x1="432.50" y1="251.50" x2="432.50" y2="272.30" stroke="#262626" stroke-width="1.3"/><line x1="597.50" y1="112.60" x2="597.50" y2="133.70" stroke="#262626" stroke-width="1.3"/><rect x="200.70" y="112.60" width="55.00" height="159.70" fill="#fff"/><path fill="#555" d="M214.5 207.5h1.2v1.2h-1.2zM252.8 120.1h1.2v1.2h-1.2zM233.8 222.0h1.2v1.2h-1.2zM244.1 167.2h1.2v1.2h-1.2zM243.8 186.0h1.2v1.2h-1.2zM249.6 115.3h1.2v1.2h-1.2zM250.6 178.2h1.2v1.2h-1.2zM222.9 127.4h1.2v1.2h-1.2zM214.4 228.6h1.2v1.2h-1.2zM237.0 137.3h1.2v1.2h-1.2zM219.6 135.6h1.2v1.2h-1.2zM212.0 148.0h1.2v1.2h-1.2zM218.9 266.5h1.2v1.2h-1.2zM253.6 237.6h1.2v1.2h-1.2zM226.6 191.5h1.2v1.2h-1.2zM242.2 255.9h1.2v1.2h-1.2zM240.8 213.3h1.2v1.2h-1.2zM212.1 211.6h1.2v1.2h-1.2zM245.7 236.9h1.2v1.2h-1.2zM206.5 226.0h1.2v1.2h-1.2zM219.9 139.0h1.2v1.2h-1.2zM251.9 219.0h1.2v1.2h-1.2zM240.5 134.7h1.2v1.2h-1.2zM244.8 260.4h1.2v1.2h-1.2zM248.7 230.3h1.2v1.2h-1.2zM245.0 239.3h1.2v1.2h-1.2zM232.4 181.8h1.2v1.2h-1.2zM244.6 236.5h1.2v1.2h-1.2zM247.0 160.4h1.2v1.2h-1.2zM251.7 196.9h1.2v1.2h-1.2zM250.9 131.8h1.2v1.2h-1.2zM252.1 237.0h1.2v1.2h-1.2zM214.8 245.0h1.2v1.2h-1.2zM213.8 144.6h1.2v1.2h-1.2zM225.5 150.7h1.2v1.2h-1.2zM227.3 255.9h1.2v1.2h-1.2zM237.3 224.9h1.2v1.2h-1.2zM222.1 236.4h1.2v1.2h-1.2zM243.0 220.6h1.2v1.2h-1.2zM250.7 243.0h1.2v1.2h-1.2zM222.8 127.2h1.2v1.2h-1.2zM235.6 244.6h1.2v1.2h-1.2zM219.4 206.8h1.2v1.2h-1.2zM245.2 237.9h1.2v1.2h-1.2zM201.9 190.2h1.2v1.2h-1.2zM202.6 130.9h1.2v1.2h-1.2zM243.9 179.2h1.2v1.2h-1.2zM233.1 185.3h1.2v1.2h-1.2zM219.1 147.1h1.2v1.2h-1.2zM220.1 245.9h1.2v1.2h-1.2zM233.9 159.4h1.2v1.2h-1.2zM206.3 156.1h1.2v1.2h-1.2zM238.2 182.9h1.2v1.2h-1.2zM236.1 240.1h1.2v1.2h-1.2zM208.0 220.6h1.2v1.2h-1.2zM203.9 242.6h1.2v1.2h-1.2zM211.3 156.1h1.2v1.2h-1.2zM251.5 170.4h1.2v1.2h-1.2zM213.4 253.0h1.2v1.2h-1.2zM233.4 253.7h1.2v1.2h-1.2zM222.2 191.9h1.2v1.2h-1.2zM251.4 193.0h1.2v1.2h-1.2zM253.1 143.3h1.2v1.2h-1.2zM244.9 139.0h1.2v1.2h-1.2zM229.1 113.7h1.2v1.2h-1.2zM210.8 261.7h1.2v1.2h-1.2zM225.3 240.4h1.2v1.2h-1.2zM214.7 168.8h1.2v1.2h-1.2zM206.9 200.2h1.2v1.2h-1.2zM246.5 194.1h1.2v1.2h-1.2zM221.3 259.1h1.2v1.2h-1.2zM248.2 218.0h1.2v1.2h-1.2zM205.6 211.4h1.2v1.2h-1.2zM224.8 263.7h1.2v1.2h-1.2zM220.5 217.2h1.2v1.2h-1.2zM234.6 172.5h1.2v1.2h-1.2zM228.9 219.6h1.2v1.2h-1.2zM248.9 191.7h1.2v1.2h-1.2zM220.6 266.6h1.2v1.2h-1.2zM204.7 244.4h1.2v1.2h-1.2zM237.2 200.9h1.2v1.2h-1.2zM225.0 231.3h1.2v1.2h-1.2zM248.0 227.8h1.2v1.2h-1.2zM240.7 119.1h1.2v1.2h-1.2zM218.6 135.1h1.2v1.2h-1.2zM251.3 253.3h1.2v1.2h-1.2zM209.2 205.7h1.2v1.2h-1.2zM231.7 120.9h1.2v1.2h-1.2zM222.1 230.7h1.2v1.2h-1.2zM235.1 157.6h1.2v1.2h-1.2zM241.3 159.2h1.2v1.2h-1.2zM230.0 179.5h1.2v1.2h-1.2zM252.6 215.3h1.2v1.2h-1.2zM243.6 219.6h1.2v1.2h-1.2zM221.5 264.5h1.2v1.2h-1.2zM238.6 221.9h1.2v1.2h-1.2zM216.1 139.0h1.2v1.2h-1.2zM231.6 243.0h1.2v1.2h-1.2zM243.0 168.0h1.2v1.2h-1.2zM209.0 194.5h1.2v1.2h-1.2zM247.3 139.0h1.2v1.2h-1.2zM240.1 140.3h1.2v1.2h-1.2zM217.9 122.0h1.2v1.2h-1.2zM217.2 173.6h1.2v1.2h-1.2zM252.0 264.4h1.2v1.2h-1.2zM211.4 162.1h1.2v1.2h-1.2zM250.8 144.5h1.2v1.2h-1.2zM218.4 182.3h1.2v1.2h-1.2zM207.3 154.4h1.2v1.2h-1.2zM222.2 174.0h1.2v1.2h-1.2zM251.8 155.4h1.2v1.2h-1.2zM212.3 256.0h1.2v1.2h-1.2zM225.1 244.8h1.2v1.2h-1.2zM234.8 235.6h1.2v1.2h-1.2zM218.1 137.4h1.2v1.2h-1.2zM241.1 187.3h1.2v1.2h-1.2zM230.8 218.7h1.2v1.2h-1.2zM240.8 156.8h1.2v1.2h-1.2zM220.6 257.4h1.2v1.2h-1.2zM229.2 158.8h1.2v1.2h-1.2zM234.5 154.3h1.2v1.2h-1.2zM241.8 120.1h1.2v1.2h-1.2zM244.7 202.4h1.2v1.2h-1.2zM220.1 260.9h1.2v1.2h-1.2zM215.5 151.7h1.2v1.2h-1.2zM205.3 199.6h1.2v1.2h-1.2zM240.9 219.9h1.2v1.2h-1.2zM223.2 240.2h1.2v1.2h-1.2zM207.5 161.7h1.2v1.2h-1.2zM235.2 265.2h1.2v1.2h-1.2zM234.7 222.0h1.2v1.2h-1.2zM242.0 175.4h1.2v1.2h-1.2zM250.6 229.9h1.2v1.2h-1.2zM219.5 175.1h1.2v1.2h-1.2zM243.6 168.4h1.2v1.2h-1.2zM211.4 250.2h1.2v1.2h-1.2zM229.4 195.3h1.2v1.2h-1.2zM236.5 254.9h1.2v1.2h-1.2zM208.6 166.7h1.2v1.2h-1.2zM205.1 178.3h1.2v1.2h-1.2zM227.8 247.1h1.2v1.2h-1.2zM236.4 204.1h1.2v1.2h-1.2zM222.7 203.5h1.2v1.2h-1.2zM215.9 246.0h1.2v1.2h-1.2zM242.7 245.0h1.2v1.2h-1.2zM209.6 218.8h1.2v1.2h-1.2zM240.9 192.0h1.2v1.2h-1.2zM248.4 254.4h1.2v1.2h-1.2zM240.3 242.2h1.2v1.2h-1.2zM235.4 251.3h1.2v1.2h-1.2zM208.5 223.9h1.2v1.2h-1.2zM238.3 209.6h1.2v1.2h-1.2zM216.0 124.1h1.2v1.2h-1.2zM233.1 242.8h1.2v1.2h-1.2zM215.9 147.0h1.2v1.2h-1.2zM213.3 128.3h1.2v1.2h-1.2zM236.9 266.4h1.2v1.2h-1.2zM243.4 170.0h1.2v1.2h-1.2zM238.1 124.9h1.2v1.2h-1.2zM245.3 164.5h1.2v1.2h-1.2zM201.9 212.2h1.2v1.2h-1.2zM208.9 156.7h1.2v1.2h-1.2zM204.8 183.4h1.2v1.2h-1.2zM230.6 240.1h1.2v1.2h-1.2zM203.8 243.3h1.2v1.2h-1.2zM207.4 148.8h1.2v1.2h-1.2zM234.4 166.9h1.2v1.2h-1.2zM218.9 202.7h1.2v1.2h-1.2zM213.0 237.9h1.2v1.2h-1.2zM212.6 245.1h1.2v1.2h-1.2zM243.8 197.8h1.2v1.2h-1.2zM203.3 235.5h1.2v1.2h-1.2zM203.2 192.7h1.2v1.2h-1.2zM223.7 123.5h1.2v1.2h-1.2zM234.5 227.1h1.2v1.2h-1.2zM232.1 176.3h1.2v1.2h-1.2zM228.3 205.9h1.2v1.2h-1.2zM213.5 249.6h1.2v1.2h-1.2zM253.5 239.6h1.2v1.2h-1.2zM251.7 165.2h1.2v1.2h-1.2zM253.0 124.8h1.2v1.2h-1.2zM226.5 134.6h1.2v1.2h-1.2zM225.3 220.6h1.2v1.2h-1.2zM238.5 184.8h1.2v1.2h-1.2zM219.5 143.4h1.2v1.2h-1.2zM222.6 157.9h1.2v1.2h-1.2zM211.8 228.9h1.2v1.2h-1.2zM228.5 182.3h1.2v1.2h-1.2zM212.0 223.9h1.2v1.2h-1.2zM211.9 155.2h1.2v1.2h-1.2zM230.8 223.5h1.2v1.2h-1.2zM252.3 230.8h1.2v1.2h-1.2zM251.0 257.8h1.2v1.2h-1.2z"/><g fill="#bbb" stroke="#2a2a2a" stroke-width="1.0"><polygon points="240.5,226.5 237.1,227.0 238.4,223.8"/><polygon points="215.7,117.1 215.0,120.5 212.4,118.2"/><polygon points="238.5,214.2 237.0,211.1 240.4,211.4"/><polygon points="220.1,140.0 223.4,141.0 220.8,143.3"/><polygon points="253.2,163.5 249.9,164.4 250.8,161.0"/><polygon points="214.5,169.3 213.2,172.5 211.1,169.7"/><polygon points="244.1,186.8 240.7,186.4 242.7,183.6"/><polygon points="210.1,138.0 211.3,141.2 207.8,140.6"/><polygon points="228.5,265.8 226.9,268.9 225.1,265.9"/><polygon points="242.9,187.0 243.2,190.5 240.1,189.0"/><polygon points="208.9,132.3 212.3,131.9 211.0,135.1"/><polygon points="228.6,150.3 226.9,147.3 230.3,147.4"/></g><rect x="200.70" y="112.60" width="55.00" height="159.70" fill="none" stroke="#262626" stroke-width="1.5"/><rect x="486.00" y="112.60" width="57.00" height="159.70" fill="#fff"/><path fill="#555" d="M488.1 256.0h1.2v1.2h-1.2zM525.4 261.7h1.2v1.2h-1.2zM539.9 182.0h1.2v1.2h-1.2zM526.6 173.8h1.2v1.2h-1.2zM530.8 245.4h1.2v1.2h-1.2zM494.2 115.6h1.2v1.2h-1.2zM498.6 205.3h1.2v1.2h-1.2zM507.5 115.0h1.2v1.2h-1.2zM531.8 236.8h1.2v1.2h-1.2zM512.0 120.4h1.2v1.2h-1.2zM535.0 197.3h1.2v1.2h-1.2zM490.8 164.3h1.2v1.2h-1.2zM520.7 252.3h1.2v1.2h-1.2zM513.2 213.8h1.2v1.2h-1.2zM498.1 151.7h1.2v1.2h-1.2zM535.9 173.6h1.2v1.2h-1.2zM492.6 206.2h1.2v1.2h-1.2zM493.8 144.9h1.2v1.2h-1.2zM511.6 205.4h1.2v1.2h-1.2zM521.4 224.4h1.2v1.2h-1.2zM510.7 124.2h1.2v1.2h-1.2zM526.1 122.0h1.2v1.2h-1.2zM512.4 176.3h1.2v1.2h-1.2zM523.3 225.4h1.2v1.2h-1.2zM499.9 215.4h1.2v1.2h-1.2zM524.4 187.5h1.2v1.2h-1.2zM494.7 256.0h1.2v1.2h-1.2zM519.3 123.4h1.2v1.2h-1.2zM499.9 268.2h1.2v1.2h-1.2zM499.4 175.1h1.2v1.2h-1.2zM529.6 242.7h1.2v1.2h-1.2zM521.2 229.8h1.2v1.2h-1.2zM489.1 128.3h1.2v1.2h-1.2zM539.7 239.4h1.2v1.2h-1.2zM489.1 121.2h1.2v1.2h-1.2zM500.0 259.4h1.2v1.2h-1.2zM498.9 218.9h1.2v1.2h-1.2zM537.2 213.7h1.2v1.2h-1.2zM536.6 154.8h1.2v1.2h-1.2zM495.3 116.5h1.2v1.2h-1.2zM527.9 129.9h1.2v1.2h-1.2zM539.6 224.9h1.2v1.2h-1.2zM497.1 240.1h1.2v1.2h-1.2zM495.8 193.9h1.2v1.2h-1.2zM492.7 236.9h1.2v1.2h-1.2zM535.0 257.2h1.2v1.2h-1.2zM487.1 247.0h1.2v1.2h-1.2zM517.0 242.3h1.2v1.2h-1.2zM514.1 210.7h1.2v1.2h-1.2zM519.1 238.9h1.2v1.2h-1.2zM491.2 122.1h1.2v1.2h-1.2zM516.5 159.2h1.2v1.2h-1.2zM508.4 114.8h1.2v1.2h-1.2zM527.2 117.4h1.2v1.2h-1.2zM531.8 240.8h1.2v1.2h-1.2zM511.7 132.7h1.2v1.2h-1.2zM522.1 146.1h1.2v1.2h-1.2zM510.2 130.9h1.2v1.2h-1.2zM539.7 199.2h1.2v1.2h-1.2zM506.0 128.3h1.2v1.2h-1.2zM526.4 246.8h1.2v1.2h-1.2zM532.8 129.5h1.2v1.2h-1.2zM506.8 161.0h1.2v1.2h-1.2zM528.2 136.8h1.2v1.2h-1.2zM519.7 266.9h1.2v1.2h-1.2zM528.5 114.7h1.2v1.2h-1.2zM491.0 131.4h1.2v1.2h-1.2zM524.4 207.4h1.2v1.2h-1.2zM515.1 185.0h1.2v1.2h-1.2zM509.0 209.3h1.2v1.2h-1.2zM522.0 257.2h1.2v1.2h-1.2zM526.6 238.4h1.2v1.2h-1.2zM536.3 244.8h1.2v1.2h-1.2zM525.7 118.4h1.2v1.2h-1.2zM523.8 246.8h1.2v1.2h-1.2zM510.3 251.2h1.2v1.2h-1.2zM496.7 261.3h1.2v1.2h-1.2zM510.9 224.3h1.2v1.2h-1.2zM500.6 160.7h1.2v1.2h-1.2zM505.8 164.4h1.2v1.2h-1.2zM492.1 183.0h1.2v1.2h-1.2zM540.0 216.1h1.2v1.2h-1.2zM537.3 233.1h1.2v1.2h-1.2zM532.2 269.4h1.2v1.2h-1.2zM527.6 156.6h1.2v1.2h-1.2zM500.5 178.2h1.2v1.2h-1.2zM488.1 149.8h1.2v1.2h-1.2zM534.9 257.9h1.2v1.2h-1.2zM504.8 234.3h1.2v1.2h-1.2zM528.8 253.0h1.2v1.2h-1.2zM529.9 197.0h1.2v1.2h-1.2zM492.7 242.9h1.2v1.2h-1.2zM503.9 211.8h1.2v1.2h-1.2zM506.8 197.8h1.2v1.2h-1.2zM539.1 138.8h1.2v1.2h-1.2zM515.7 215.4h1.2v1.2h-1.2zM516.1 260.6h1.2v1.2h-1.2zM509.0 256.8h1.2v1.2h-1.2zM524.2 265.2h1.2v1.2h-1.2zM491.8 146.9h1.2v1.2h-1.2zM502.5 255.7h1.2v1.2h-1.2zM487.7 154.4h1.2v1.2h-1.2zM525.7 268.7h1.2v1.2h-1.2zM496.5 182.2h1.2v1.2h-1.2zM524.1 221.8h1.2v1.2h-1.2zM527.3 231.6h1.2v1.2h-1.2zM500.4 153.9h1.2v1.2h-1.2zM488.5 221.9h1.2v1.2h-1.2zM498.3 154.3h1.2v1.2h-1.2zM539.1 214.4h1.2v1.2h-1.2zM518.9 216.4h1.2v1.2h-1.2zM519.3 222.5h1.2v1.2h-1.2zM503.4 123.6h1.2v1.2h-1.2zM490.6 115.9h1.2v1.2h-1.2zM506.5 135.9h1.2v1.2h-1.2zM493.1 191.0h1.2v1.2h-1.2zM539.4 221.3h1.2v1.2h-1.2zM501.8 234.2h1.2v1.2h-1.2zM496.6 129.3h1.2v1.2h-1.2zM503.4 177.7h1.2v1.2h-1.2zM524.2 183.3h1.2v1.2h-1.2zM526.3 128.5h1.2v1.2h-1.2zM537.3 167.2h1.2v1.2h-1.2zM531.9 118.4h1.2v1.2h-1.2zM531.8 149.1h1.2v1.2h-1.2zM533.2 239.4h1.2v1.2h-1.2zM523.2 157.1h1.2v1.2h-1.2zM487.5 143.4h1.2v1.2h-1.2zM535.9 138.4h1.2v1.2h-1.2zM522.6 205.6h1.2v1.2h-1.2zM522.7 141.9h1.2v1.2h-1.2zM494.8 128.8h1.2v1.2h-1.2zM540.1 173.6h1.2v1.2h-1.2zM522.2 202.9h1.2v1.2h-1.2zM499.1 123.8h1.2v1.2h-1.2zM487.8 247.2h1.2v1.2h-1.2zM494.0 264.5h1.2v1.2h-1.2zM506.6 226.8h1.2v1.2h-1.2zM494.5 237.1h1.2v1.2h-1.2zM500.6 171.0h1.2v1.2h-1.2zM515.2 131.1h1.2v1.2h-1.2zM500.4 238.3h1.2v1.2h-1.2zM502.4 173.3h1.2v1.2h-1.2zM528.3 148.7h1.2v1.2h-1.2zM497.5 147.9h1.2v1.2h-1.2zM507.7 170.9h1.2v1.2h-1.2zM521.6 187.5h1.2v1.2h-1.2zM534.0 121.5h1.2v1.2h-1.2zM522.8 244.7h1.2v1.2h-1.2zM499.7 118.2h1.2v1.2h-1.2zM510.7 131.8h1.2v1.2h-1.2zM511.8 225.1h1.2v1.2h-1.2zM492.1 132.1h1.2v1.2h-1.2zM512.9 140.8h1.2v1.2h-1.2zM499.5 182.6h1.2v1.2h-1.2zM493.4 124.2h1.2v1.2h-1.2zM506.5 187.1h1.2v1.2h-1.2zM537.6 200.5h1.2v1.2h-1.2zM490.9 148.5h1.2v1.2h-1.2zM527.2 201.8h1.2v1.2h-1.2zM534.0 264.4h1.2v1.2h-1.2zM533.3 130.8h1.2v1.2h-1.2zM538.0 195.8h1.2v1.2h-1.2zM499.9 140.3h1.2v1.2h-1.2zM533.7 146.9h1.2v1.2h-1.2zM491.5 155.2h1.2v1.2h-1.2zM536.9 185.8h1.2v1.2h-1.2zM526.5 125.3h1.2v1.2h-1.2zM511.5 163.4h1.2v1.2h-1.2zM498.1 217.5h1.2v1.2h-1.2zM506.5 132.4h1.2v1.2h-1.2zM540.1 189.1h1.2v1.2h-1.2zM496.7 115.3h1.2v1.2h-1.2zM522.3 194.2h1.2v1.2h-1.2zM488.3 187.3h1.2v1.2h-1.2zM527.0 197.8h1.2v1.2h-1.2zM499.6 191.8h1.2v1.2h-1.2zM519.7 215.6h1.2v1.2h-1.2zM494.8 239.5h1.2v1.2h-1.2zM538.1 229.6h1.2v1.2h-1.2zM533.3 171.2h1.2v1.2h-1.2zM535.7 142.1h1.2v1.2h-1.2zM499.3 207.3h1.2v1.2h-1.2zM535.7 126.4h1.2v1.2h-1.2zM498.7 119.2h1.2v1.2h-1.2zM510.7 135.6h1.2v1.2h-1.2zM497.3 231.0h1.2v1.2h-1.2zM518.5 260.8h1.2v1.2h-1.2zM508.7 220.0h1.2v1.2h-1.2zM487.7 262.2h1.2v1.2h-1.2zM499.6 188.4h1.2v1.2h-1.2zM514.6 262.2h1.2v1.2h-1.2zM513.6 269.0h1.2v1.2h-1.2zM520.5 147.5h1.2v1.2h-1.2zM532.0 145.2h1.2v1.2h-1.2zM541.0 185.1h1.2v1.2h-1.2zM499.2 264.2h1.2v1.2h-1.2zM504.4 177.4h1.2v1.2h-1.2zM505.5 218.4h1.2v1.2h-1.2zM488.2 172.2h1.2v1.2h-1.2z"/><g fill="#bbb" stroke="#2a2a2a" stroke-width="1.0"><polygon points="499.9,242.2 496.9,243.9 496.9,240.5"/><polygon points="517.9,156.3 520.2,153.8 521.2,157.1"/><polygon points="518.8,226.1 515.6,224.9 518.2,222.7"/><polygon points="503.7,134.4 501.2,136.8 500.4,133.5"/><polygon points="495.3,137.1 498.5,135.8 498.1,139.2"/><polygon points="520.4,251.8 516.9,252.4 518.2,249.1"/><polygon points="499.8,141.0 503.2,141.0 501.5,144.0"/><polygon points="513.7,177.3 512.5,180.6 510.3,178.0"/><polygon points="524.3,246.6 521.9,249.0 521.0,245.7"/><polygon points="501.5,260.6 503.1,257.5 505.0,260.4"/><polygon points="494.1,256.6 490.7,256.1 492.8,253.4"/><polygon points="490.4,162.5 489.4,159.2 492.8,160.0"/><polygon points="535.6,249.6 537.4,246.6 539.1,249.7"/></g><rect x="486.00" y="112.60" width="57.00" height="159.70" fill="none" stroke="#262626" stroke-width="1.5"/><rect x="137.50" y="133.70" width="13.80" height="66.60" fill="#fff" stroke="#262626" stroke-width="1.3"/><polyline points="422.5,134.7 418.2,135.6 426.8,137.5 418.2,139.3 426.8,141.2 418.2,143.0 426.8,144.9 418.2,146.7 426.8,148.6 422.5,149.5" fill="none" stroke="#262626" stroke-width="1.4"/><polyline points="606,134.7 601.8,135.6 610.2,137.5 601.8,139.3 610.2,141.2 601.8,143.0 610.2,144.9 601.8,146.7 610.2,148.6 606,149.5" fill="none" stroke="#262626" stroke-width="1.4"/><rect clip-path="url(#ca)" x="330" y="150.7" width="85" height="10.8" fill="#fff"/><polygon points="370.7,164.9 260.8,198.7 262.8,205.3 372.7,171.5" fill="#fff" stroke="#262626" stroke-width="1.2"/><polygon points="370.7,171.5 480.5,205.5 482.5,198.9 372.7,164.9" fill="#fff" stroke="#262626" stroke-width="1.2"/><rect x="341.00" y="154.60" width="62.00" height="5.00" fill="#fff" stroke="#262626" stroke-width="1.1"/><rect x="368.70" y="154.80" width="6.00" height="10.20" fill="#fff" stroke="#262626" stroke-width="1.1"/><circle cx="371.7" cy="168.2" r="3.4" fill="#fff" stroke="#262626" stroke-width="1.2"/><polygon points="369.2,170.7 374.2,170.7 371.7,173.7" fill="#262626"/><polygon points="255.8,193.8 261.8,202 255.8,209.6" fill="#fff" stroke="#262626" stroke-width="1.2"/><polygon points="255.8,201 251.60000000000002,205.2 255.8,206.5" fill="#262626"/><circle cx="261.8" cy="202" r="4.9" fill="#fff" stroke="#262626" stroke-width="1.4"/><circle cx="261.8" cy="202" r="2.9" fill="#fff" stroke="#262626" stroke-width="1.2"/><polygon points="486.3,194.0 481.5,202.2 486.3,209.79999999999998" fill="#fff" stroke="#262626" stroke-width="1.2"/><circle cx="481.5" cy="202.2" r="4.9" fill="#fff" stroke="#262626" stroke-width="1.4"/><circle cx="481.5" cy="202.2" r="2.9" fill="#fff" stroke="#262626" stroke-width="1.2"/><g clip-path="url(#cbr)"><polygon points="657.0,164.9 547.5,198.7 549.5,205.3 659.0,171.5" fill="#fff" stroke="#262626" stroke-width="1.2"/><polygon points="657.0,171.5 767.0,205.3 769.0,198.7 659.0,164.9" fill="#fff" stroke="#262626" stroke-width="1.2"/><rect x="625.00" y="154.60" width="67.50" height="5.00" fill="#fff" stroke="#262626" stroke-width="1.1"/><rect x="655.00" y="154.80" width="6.00" height="10.20" fill="#fff" stroke="#262626" stroke-width="1.1"/><circle cx="658" cy="168.2" r="3.4" fill="#fff" stroke="#262626" stroke-width="1.2"/><polygon points="655.5,170.7 660.5,170.7 658,173.7" fill="#262626"/><polygon points="543,193.8 548.5,202 543,209.6" fill="#fff" stroke="#262626" stroke-width="1.2"/><polygon points="543,201 538.8,205.2 543,206.5" fill="#262626"/><circle cx="548.5" cy="202" r="4.9" fill="#fff" stroke="#262626" stroke-width="1.4"/><circle cx="548.5" cy="202" r="2.9" fill="#fff" stroke="#262626" stroke-width="1.2"/><circle cx="768" cy="202" r="4.9" fill="#fff" stroke="#262626" stroke-width="1.4"/><circle cx="768" cy="202" r="2.9" fill="#fff" stroke="#262626" stroke-width="1.2"/></g><circle cx="371.9" cy="160.1" r="32" fill="none" stroke="#262626" stroke-width="1.3"/><polyline points="714.0,80 714.1,84 714.3,88 714.5,92 714.6,96 714.8,100 714.9,104 715.1,108 715.2,112 715.3,116 715.4,120 715.5,124 715.5,128 715.6,132 715.7,136 715.8,140 715.5,144 715.3,148 715.0,152 714.7,156 714.5,160 714.2,164 713.9,168 713.6,172 713.4,176 713.1,180 712.6,184 712.1,188 711.6,192 711.1,196 710.6,200 709.9,204 709.0,208 708.2,212 707.4,216 706.5,220 705.3,224 703.6,228 701.9,232 700.2,236 698.6,240 697.0,244 695.4,248 693.8,252 691.9,256 689.9,260 687.9,264 685.9,268 683.9,272 681.8,276 679.6,280 677.4,284 675.2,288" fill="none" stroke="#262626" stroke-width="1.2"/><rect x="73.00" y="104.60" width="57.50" height="8.00" fill="#fff" stroke="#262626" stroke-width="1.3"/><rect x="325.00" y="104.60" width="92.50" height="8.00" fill="#fff" stroke="#262626" stroke-width="1.3"/><rect x="612.00" y="104.60" width="92.50" height="8.00" fill="#fff" stroke="#262626" stroke-width="1.3"/><rect x="130.50" y="108.00" width="39.00" height="4.60" fill="#fff"/><g clip-path="url(#c8)" stroke="#262626" stroke-width="1.05"><line x1="123.80" y1="112.60" x2="128.40" y2="108.00"/><line x1="133.20" y1="112.60" x2="137.80" y2="108.00"/><line x1="142.60" y1="112.60" x2="147.20" y2="108.00"/><line x1="152.00" y1="112.60" x2="156.60" y2="108.00"/><line x1="161.40" y1="112.60" x2="166.00" y2="108.00"/><line x1="170.80" y1="112.60" x2="175.40" y2="108.00"/></g><rect x="130.50" y="108.00" width="39.00" height="4.60" fill="none" stroke="#262626" stroke-width="1.1"/><rect x="130.50" y="89.30" width="29.00" height="18.70" fill="#fff"/><g clip-path="url(#c9)" stroke="#262626" stroke-width="1.05"><line x1="109.60" y1="108.00" x2="128.30" y2="89.30"/><line x1="119.00" y1="108.00" x2="137.70" y2="89.30"/><line x1="128.40" y1="108.00" x2="147.10" y2="89.30"/><line x1="137.80" y1="108.00" x2="156.50" y2="89.30"/><line x1="147.20" y1="108.00" x2="165.90" y2="89.30"/><line x1="156.60" y1="108.00" x2="175.30" y2="89.30"/><line x1="166.00" y1="108.00" x2="184.70" y2="89.30"/></g><rect x="130.50" y="89.30" width="29.00" height="18.70" fill="none" stroke="#262626" stroke-width="1.3"/><rect x="154.00" y="92.10" width="15.50" height="13.70" fill="#fff" stroke="#262626" stroke-width="1.3"/><polyline points="156.0,103.2 157.9,94.8 159.8,103.2 161.8,94.8 163.7,103.2 165.6,94.8 167.5,103.2" fill="none" stroke="#111" stroke-width="1.9"/><rect x="287.00" y="108.00" width="38.00" height="4.60" fill="#fff"/><g clip-path="url(#c10)" stroke="#262626" stroke-width="1.05"><line x1="274.20" y1="112.60" x2="278.80" y2="108.00"/><line x1="283.60" y1="112.60" x2="288.20" y2="108.00"/><line x1="293.00" y1="112.60" x2="297.60" y2="108.00"/><line x1="302.40" y1="112.60" x2="307.00" y2="108.00"/><line x1="311.80" y1="112.60" x2="316.40" y2="108.00"/><line x1="321.20" y1="112.60" x2="325.80" y2="108.00"/><line x1="330.60" y1="112.60" x2="335.20" y2="108.00"/></g><rect x="287.00" y="108.00" width="38.00" height="4.60" fill="none" stroke="#262626" stroke-width="1.1"/><rect x="297.00" y="89.30" width="28.00" height="18.70" fill="#fff"/><g clip-path="url(#c11)" stroke="#262626" stroke-width="1.05"><line x1="269.40" y1="108.00" x2="288.10" y2="89.30"/><line x1="278.80" y1="108.00" x2="297.50" y2="89.30"/><line x1="288.20" y1="108.00" x2="306.90" y2="89.30"/><line x1="297.60" y1="108.00" x2="316.30" y2="89.30"/><line x1="307.00" y1="108.00" x2="325.70" y2="89.30"/><line x1="316.40" y1="108.00" x2="335.10" y2="89.30"/><line x1="325.80" y1="108.00" x2="344.50" y2="89.30"/></g><rect x="297.00" y="89.30" width="28.00" height="18.70" fill="none" stroke="#262626" stroke-width="1.3"/><rect x="287.00" y="92.10" width="15.50" height="13.70" fill="#fff" stroke="#262626" stroke-width="1.3"/><polyline points="289.0,103.2 290.9,94.8 292.8,103.2 294.8,94.8 296.7,103.2 298.6,94.8 300.5,103.2" fill="none" stroke="#111" stroke-width="1.9"/><rect x="417.50" y="108.00" width="39.50" height="4.60" fill="#fff"/><g clip-path="url(#c12)" stroke="#262626" stroke-width="1.05"><line x1="405.80" y1="112.60" x2="410.40" y2="108.00"/><line x1="415.20" y1="112.60" x2="419.80" y2="108.00"/><line x1="424.60" y1="112.60" x2="429.20" y2="108.00"/><line x1="434.00" y1="112.60" x2="438.60" y2="108.00"/><line x1="443.40" y1="112.60" x2="448.00" y2="108.00"/><line x1="452.80" y1="112.60" x2="457.40" y2="108.00"/><line x1="462.20" y1="112.60" x2="466.80" y2="108.00"/></g><rect x="417.50" y="108.00" width="39.50" height="4.60" fill="none" stroke="#262626" stroke-width="1.1"/><rect x="417.50" y="89.30" width="27.50" height="18.70" fill="#fff"/><g clip-path="url(#c13)" stroke="#262626" stroke-width="1.05"><line x1="391.60" y1="108.00" x2="410.30" y2="89.30"/><line x1="401.00" y1="108.00" x2="419.70" y2="89.30"/><line x1="410.40" y1="108.00" x2="429.10" y2="89.30"/><line x1="419.80" y1="108.00" x2="438.50" y2="89.30"/><line x1="429.20" y1="108.00" x2="447.90" y2="89.30"/><line x1="438.60" y1="108.00" x2="457.30" y2="89.30"/><line x1="448.00" y1="108.00" x2="466.70" y2="89.30"/></g><rect x="417.50" y="89.30" width="27.50" height="18.70" fill="none" stroke="#262626" stroke-width="1.3"/><rect x="441.00" y="92.10" width="16.00" height="13.70" fill="#fff" stroke="#262626" stroke-width="1.3"/><polyline points="443.0,103.2 445.0,94.8 447.0,103.2 449.0,94.8 451.0,103.2 453.0,94.8 455.0,103.2" fill="none" stroke="#111" stroke-width="1.9"/><rect x="573.00" y="108.00" width="39.00" height="4.60" fill="#fff"/><g clip-path="url(#c14)" stroke="#262626" stroke-width="1.05"><line x1="565.60" y1="112.60" x2="570.20" y2="108.00"/><line x1="575.00" y1="112.60" x2="579.60" y2="108.00"/><line x1="584.40" y1="112.60" x2="589.00" y2="108.00"/><line x1="593.80" y1="112.60" x2="598.40" y2="108.00"/><line x1="603.20" y1="112.60" x2="607.80" y2="108.00"/><line x1="612.60" y1="112.60" x2="617.20" y2="108.00"/></g><rect x="573.00" y="108.00" width="39.00" height="4.60" fill="none" stroke="#262626" stroke-width="1.1"/><rect x="584.50" y="89.30" width="27.50" height="18.70" fill="#fff"/><g clip-path="url(#c15)" stroke="#262626" stroke-width="1.05"><line x1="560.80" y1="108.00" x2="579.50" y2="89.30"/><line x1="570.20" y1="108.00" x2="588.90" y2="89.30"/><line x1="579.60" y1="108.00" x2="598.30" y2="89.30"/><line x1="589.00" y1="108.00" x2="607.70" y2="89.30"/><line x1="598.40" y1="108.00" x2="617.10" y2="89.30"/><line x1="607.80" y1="108.00" x2="626.50" y2="89.30"/><line x1="617.20" y1="108.00" x2="635.90" y2="89.30"/></g><rect x="584.50" y="89.30" width="27.50" height="18.70" fill="none" stroke="#262626" stroke-width="1.3"/><rect x="573.00" y="92.10" width="16.00" height="13.70" fill="#fff" stroke="#262626" stroke-width="1.3"/><polyline points="575.0,103.2 577.0,94.8 579.0,103.2 581.0,94.8 583.0,103.2 585.0,94.8 587.0,103.2" fill="none" stroke="#111" stroke-width="1.9"/><rect x="704.30" y="89.30" width="9.90" height="23.30" fill="#fff"/><g clip-path="url(#c16)" stroke="#262626" stroke-width="1.05"><line x1="678.40" y1="112.60" x2="701.70" y2="89.30"/><line x1="687.80" y1="112.60" x2="711.10" y2="89.30"/><line x1="697.20" y1="112.60" x2="720.50" y2="89.30"/><line x1="706.60" y1="112.60" x2="729.90" y2="89.30"/><line x1="716.00" y1="112.60" x2="739.30" y2="89.30"/></g><rect x="704.30" y="89.30" width="9.90" height="23.30" fill="none" stroke="#262626" stroke-width="1.3"/><rect x="733.00" y="92.30" width="10.00" height="12.70" fill="#fff" stroke="#262626" stroke-width="1.3"/><polyline points="735.0,103.2 736.5,94.8 738.0,103.2 739.5,94.8 741.0,103.2" fill="none" stroke="#111" stroke-width="1.9"/><rect x="733.00" y="105.00" width="10.00" height="4.30" fill="#fff" stroke="#262626" stroke-width="1.0"/><line x1="714.00" y1="80.60" x2="714.00" y2="89.30" stroke="#262626" stroke-width="1.3"/><rect x="860.50" y="92.30" width="10.00" height="12.70" fill="#fff" stroke="#262626" stroke-width="1.3"/><polyline points="862.5,103.2 864.0,94.8 865.5,103.2 867.0,94.8 868.5,103.2" fill="none" stroke="#111" stroke-width="1.9"/><rect x="860.50" y="105.00" width="10.00" height="4.30" fill="#fff" stroke="#262626" stroke-width="1.0"/><rect x="957.00" y="112.60" width="35.00" height="159.40" fill="#fff" stroke="#262626" stroke-width="1.3"/><rect x="899.50" y="104.60" width="57.50" height="176.90" fill="#fff" stroke="#262626" stroke-width="1.3"/><rect x="870.50" y="89.30" width="29.00" height="206.50" fill="#fff" stroke="#262626" stroke-width="1.3"/><rect x="73.00" y="272.30" width="57.50" height="9.20" fill="#fff" stroke="#262626" stroke-width="1.3"/><rect x="325.50" y="272.30" width="91.50" height="9.20" fill="#fff" stroke="#262626" stroke-width="1.3"/><rect x="612.00" y="272.30" width="92.50" height="9.20" fill="#fff" stroke="#262626" stroke-width="1.3"/><rect x="130.50" y="272.30" width="39.00" height="3.70" fill="#fff"/><g clip-path="url(#c17)" stroke="#262626" stroke-width="1.05"><line x1="120.20" y1="276.00" x2="123.90" y2="272.30"/><line x1="129.60" y1="276.00" x2="133.30" y2="272.30"/><line x1="139.00" y1="276.00" x2="142.70" y2="272.30"/><line x1="148.40" y1="276.00" x2="152.10" y2="272.30"/><line x1="157.80" y1="276.00" x2="161.50" y2="272.30"/><line x1="167.20" y1="276.00" x2="170.90" y2="272.30"/><line x1="176.60" y1="276.00" x2="180.30" y2="272.30"/></g><rect x="130.50" y="272.30" width="39.00" height="3.70" fill="none" stroke="#262626" stroke-width="1.0"/><rect x="130.50" y="276.00" width="28.80" height="19.80" fill="#fff"/><g clip-path="url(#c18)" stroke="#262626" stroke-width="1.05"><line x1="109.80" y1="295.80" x2="129.60" y2="276.00"/><line x1="119.20" y1="295.80" x2="139.00" y2="276.00"/><line x1="128.60" y1="295.80" x2="148.40" y2="276.00"/><line x1="138.00" y1="295.80" x2="157.80" y2="276.00"/><line x1="147.40" y1="295.80" x2="167.20" y2="276.00"/><line x1="156.80" y1="295.80" x2="176.60" y2="276.00"/><line x1="166.20" y1="295.80" x2="186.00" y2="276.00"/></g><rect x="130.50" y="276.00" width="28.80" height="19.80" fill="none" stroke="#262626" stroke-width="1.3"/><rect x="159.30" y="277.80" width="10.20" height="18.00" fill="#fff"/><path fill="#444" d="M164 292h1v1h-1zM166 289h1v1h-1zM164 281h1v1h-1zM162 289h1v1h-1zM165 291h1v1h-1zM167 293h1v1h-1zM162 280h1v1h-1zM167 287h1v1h-1zM162 289h1v1h-1zM162 282h1v1h-1zM163 287h1v1h-1zM165 280h1v1h-1zM166 288h1v1h-1zM164 289h1v1h-1zM166 279h1v1h-1zM164 289h1v1h-1zM165 289h1v1h-1zM162 293h1v1h-1zM166 282h1v1h-1zM163 293h1v1h-1zM162 285h1v1h-1zM167 292h1v1h-1zM162 290h1v1h-1zM163 289h1v1h-1zM166 281h1v1h-1zM162 282h1v1h-1zM162 279h1v1h-1zM161 285h1v1h-1zM163 280h1v1h-1zM164 293h1v1h-1zM164 284h1v1h-1zM165 285h1v1h-1zM162 286h1v1h-1zM160 289h1v1h-1zM161 284h1v1h-1zM167 290h1v1h-1zM166 288h1v1h-1zM165 289h1v1h-1zM167 282h1v1h-1zM166 283h1v1h-1zM162 291h1v1h-1zM165 292h1v1h-1zM167 288h1v1h-1zM162 279h1v1h-1zM164 290h1v1h-1z"/><rect x="159.30" y="277.80" width="10.20" height="18.00" fill="none" stroke="#262626" stroke-width="1.3"/><rect x="287.00" y="272.30" width="38.50" height="3.70" fill="#fff"/><g clip-path="url(#c19)" stroke="#262626" stroke-width="1.05"><line x1="280.00" y1="276.00" x2="283.70" y2="272.30"/><line x1="289.40" y1="276.00" x2="293.10" y2="272.30"/><line x1="298.80" y1="276.00" x2="302.50" y2="272.30"/><line x1="308.20" y1="276.00" x2="311.90" y2="272.30"/><line x1="317.60" y1="276.00" x2="321.30" y2="272.30"/><line x1="327.00" y1="276.00" x2="330.70" y2="272.30"/></g><rect x="287.00" y="272.30" width="38.50" height="3.70" fill="none" stroke="#262626" stroke-width="1.0"/><rect x="297.00" y="276.00" width="28.50" height="19.80" fill="#fff"/><g clip-path="url(#c20)" stroke="#262626" stroke-width="1.05"><line x1="269.60" y1="295.80" x2="289.40" y2="276.00"/><line x1="279.00" y1="295.80" x2="298.80" y2="276.00"/><line x1="288.40" y1="295.80" x2="308.20" y2="276.00"/><line x1="297.80" y1="295.80" x2="317.60" y2="276.00"/><line x1="307.20" y1="295.80" x2="327.00" y2="276.00"/><line x1="316.60" y1="295.80" x2="336.40" y2="276.00"/><line x1="326.00" y1="295.80" x2="345.80" y2="276.00"/></g><rect x="297.00" y="276.00" width="28.50" height="19.80" fill="none" stroke="#262626" stroke-width="1.3"/><rect x="287.00" y="277.80" width="10.00" height="18.00" fill="#fff"/><path fill="#444" d="M290 280h1v1h-1zM288 281h1v1h-1zM293 279h1v1h-1zM290 283h1v1h-1zM293 294h1v1h-1zM288 281h1v1h-1zM295 293h1v1h-1zM289 284h1v1h-1zM292 284h1v1h-1zM291 286h1v1h-1zM290 280h1v1h-1zM289 281h1v1h-1zM289 288h1v1h-1zM293 283h1v1h-1zM294 290h1v1h-1zM290 286h1v1h-1zM289 293h1v1h-1zM292 280h1v1h-1zM289 289h1v1h-1zM291 290h1v1h-1zM290 291h1v1h-1zM294 280h1v1h-1zM292 282h1v1h-1zM293 291h1v1h-1zM294 282h1v1h-1zM289 289h1v1h-1zM292 281h1v1h-1zM289 288h1v1h-1zM289 288h1v1h-1zM290 283h1v1h-1zM291 287h1v1h-1zM293 279h1v1h-1zM293 282h1v1h-1zM290 288h1v1h-1zM293 288h1v1h-1zM294 282h1v1h-1zM290 289h1v1h-1zM290 281h1v1h-1zM290 290h1v1h-1zM294 290h1v1h-1zM295 291h1v1h-1zM290 284h1v1h-1zM293 280h1v1h-1zM292 280h1v1h-1zM288 287h1v1h-1z"/><rect x="287.00" y="277.80" width="10.00" height="18.00" fill="none" stroke="#262626" stroke-width="1.3"/><rect x="417.00" y="272.30" width="40.00" height="3.70" fill="#fff"/><g clip-path="url(#c21)" stroke="#262626" stroke-width="1.05"><line x1="411.60" y1="276.00" x2="415.30" y2="272.30"/><line x1="421.00" y1="276.00" x2="424.70" y2="272.30"/><line x1="430.40" y1="276.00" x2="434.10" y2="272.30"/><line x1="439.80" y1="276.00" x2="443.50" y2="272.30"/><line x1="449.20" y1="276.00" x2="452.90" y2="272.30"/><line x1="458.60" y1="276.00" x2="462.30" y2="272.30"/></g><rect x="417.00" y="272.30" width="40.00" height="3.70" fill="none" stroke="#262626" stroke-width="1.0"/><rect x="417.00" y="276.00" width="28.00" height="19.80" fill="#fff"/><g clip-path="url(#c22)" stroke="#262626" stroke-width="1.05"><line x1="391.80" y1="295.80" x2="411.60" y2="276.00"/><line x1="401.20" y1="295.80" x2="421.00" y2="276.00"/><line x1="410.60" y1="295.80" x2="430.40" y2="276.00"/><line x1="420.00" y1="295.80" x2="439.80" y2="276.00"/><line x1="429.40" y1="295.80" x2="449.20" y2="276.00"/><line x1="438.80" y1="295.80" x2="458.60" y2="276.00"/><line x1="448.20" y1="295.80" x2="468.00" y2="276.00"/></g><rect x="417.00" y="276.00" width="28.00" height="19.80" fill="none" stroke="#262626" stroke-width="1.3"/><rect x="445.00" y="277.80" width="12.00" height="18.00" fill="#fff"/><path fill="#444" d="M447 293h1v1h-1zM454 286h1v1h-1zM448 281h1v1h-1zM451 287h1v1h-1zM449 290h1v1h-1zM451 290h1v1h-1zM447 280h1v1h-1zM449 286h1v1h-1zM448 289h1v1h-1zM448 284h1v1h-1zM450 289h1v1h-1zM453 284h1v1h-1zM450 293h1v1h-1zM454 288h1v1h-1zM447 286h1v1h-1zM452 283h1v1h-1zM446 294h1v1h-1zM454 281h1v1h-1zM450 288h1v1h-1zM449 280h1v1h-1zM453 290h1v1h-1zM450 280h1v1h-1zM450 280h1v1h-1zM455 280h1v1h-1zM449 290h1v1h-1zM447 280h1v1h-1zM447 281h1v1h-1zM451 291h1v1h-1zM448 281h1v1h-1zM453 285h1v1h-1zM449 281h1v1h-1zM448 293h1v1h-1zM447 283h1v1h-1zM453 292h1v1h-1zM454 286h1v1h-1zM455 288h1v1h-1zM449 286h1v1h-1zM452 290h1v1h-1zM447 282h1v1h-1zM455 280h1v1h-1zM453 284h1v1h-1zM448 283h1v1h-1zM450 294h1v1h-1zM447 292h1v1h-1zM449 281h1v1h-1zM453 284h1v1h-1zM448 285h1v1h-1zM453 292h1v1h-1zM451 279h1v1h-1zM453 288h1v1h-1zM454 293h1v1h-1zM449 292h1v1h-1zM453 283h1v1h-1zM449 284h1v1h-1z"/><rect x="445.00" y="277.80" width="12.00" height="18.00" fill="none" stroke="#262626" stroke-width="1.3"/><rect x="573.00" y="272.30" width="39.00" height="3.70" fill="#fff"/><g clip-path="url(#c23)" stroke="#262626" stroke-width="1.05"><line x1="562.00" y1="276.00" x2="565.70" y2="272.30"/><line x1="571.40" y1="276.00" x2="575.10" y2="272.30"/><line x1="580.80" y1="276.00" x2="584.50" y2="272.30"/><line x1="590.20" y1="276.00" x2="593.90" y2="272.30"/><line x1="599.60" y1="276.00" x2="603.30" y2="272.30"/><line x1="609.00" y1="276.00" x2="612.70" y2="272.30"/><line x1="618.40" y1="276.00" x2="622.10" y2="272.30"/></g><rect x="573.00" y="272.30" width="39.00" height="3.70" fill="none" stroke="#262626" stroke-width="1.0"/><rect x="584.50" y="276.00" width="27.50" height="19.80" fill="#fff"/><g clip-path="url(#c24)" stroke="#262626" stroke-width="1.05"><line x1="561.00" y1="295.80" x2="580.80" y2="276.00"/><line x1="570.40" y1="295.80" x2="590.20" y2="276.00"/><line x1="579.80" y1="295.80" x2="599.60" y2="276.00"/><line x1="589.20" y1="295.80" x2="609.00" y2="276.00"/><line x1="598.60" y1="295.80" x2="618.40" y2="276.00"/><line x1="608.00" y1="295.80" x2="627.80" y2="276.00"/><line x1="617.40" y1="295.80" x2="637.20" y2="276.00"/></g><rect x="584.50" y="276.00" width="27.50" height="19.80" fill="none" stroke="#262626" stroke-width="1.3"/><rect x="573.00" y="277.80" width="11.50" height="18.00" fill="#fff"/><path fill="#444" d="M577 284h1v1h-1zM575 282h1v1h-1zM582 285h1v1h-1zM579 292h1v1h-1zM580 282h1v1h-1zM582 291h1v1h-1zM582 290h1v1h-1zM580 291h1v1h-1zM576 289h1v1h-1zM577 291h1v1h-1zM575 287h1v1h-1zM577 291h1v1h-1zM577 291h1v1h-1zM581 292h1v1h-1zM575 293h1v1h-1zM580 289h1v1h-1zM580 280h1v1h-1zM581 287h1v1h-1zM578 284h1v1h-1zM581 291h1v1h-1zM581 282h1v1h-1zM577 283h1v1h-1zM575 284h1v1h-1zM574 291h1v1h-1zM576 280h1v1h-1zM575 290h1v1h-1zM576 286h1v1h-1zM577 291h1v1h-1zM582 283h1v1h-1zM579 292h1v1h-1zM578 292h1v1h-1zM580 283h1v1h-1zM581 287h1v1h-1zM575 288h1v1h-1zM581 287h1v1h-1zM578 285h1v1h-1zM581 289h1v1h-1zM576 284h1v1h-1zM577 293h1v1h-1zM580 281h1v1h-1zM582 279h1v1h-1zM579 285h1v1h-1zM580 285h1v1h-1zM575 287h1v1h-1zM581 291h1v1h-1zM577 282h1v1h-1zM580 291h1v1h-1zM576 292h1v1h-1zM582 285h1v1h-1zM577 289h1v1h-1zM582 282h1v1h-1z"/><rect x="573.00" y="277.80" width="11.50" height="18.00" fill="none" stroke="#262626" stroke-width="1.3"/><rect x="733.00" y="276.30" width="10.00" height="19.50" fill="#fff"/><path fill="#444" d="M736 283h1v1h-1zM739 280h1v1h-1zM738 286h1v1h-1zM739 280h1v1h-1zM741 294h1v1h-1zM738 290h1v1h-1zM735 292h1v1h-1zM738 290h1v1h-1zM740 283h1v1h-1zM740 281h1v1h-1zM734 286h1v1h-1zM740 292h1v1h-1zM741 286h1v1h-1zM741 287h1v1h-1zM735 288h1v1h-1zM740 284h1v1h-1zM738 282h1v1h-1zM736 284h1v1h-1zM738 285h1v1h-1zM735 277h1v1h-1zM736 289h1v1h-1zM739 281h1v1h-1zM736 286h1v1h-1zM735 287h1v1h-1zM740 281h1v1h-1zM738 289h1v1h-1zM739 289h1v1h-1zM739 282h1v1h-1zM740 293h1v1h-1zM734 293h1v1h-1zM737 279h1v1h-1zM734 290h1v1h-1zM739 280h1v1h-1zM737 288h1v1h-1zM741 283h1v1h-1zM739 281h1v1h-1zM735 280h1v1h-1zM737 288h1v1h-1zM736 280h1v1h-1zM736 279h1v1h-1zM735 283h1v1h-1zM738 280h1v1h-1zM737 285h1v1h-1zM741 285h1v1h-1zM741 285h1v1h-1zM735 287h1v1h-1zM735 280h1v1h-1zM735 289h1v1h-1z"/><rect x="733.00" y="276.30" width="10.00" height="19.50" fill="none" stroke="#262626" stroke-width="1.3"/><rect x="860.50" y="276.30" width="10.00" height="19.50" fill="#fff"/><path fill="#444" d="M868 284h1v1h-1zM864 284h1v1h-1zM864 289h1v1h-1zM864 280h1v1h-1zM868 287h1v1h-1zM862 291h1v1h-1zM867 283h1v1h-1zM866 292h1v1h-1zM864 284h1v1h-1zM864 286h1v1h-1zM866 289h1v1h-1zM868 280h1v1h-1zM864 291h1v1h-1zM867 287h1v1h-1zM866 283h1v1h-1zM868 286h1v1h-1zM864 280h1v1h-1zM862 292h1v1h-1zM867 278h1v1h-1zM864 285h1v1h-1zM865 283h1v1h-1zM868 283h1v1h-1zM865 293h1v1h-1zM866 285h1v1h-1zM864 284h1v1h-1zM866 290h1v1h-1zM863 283h1v1h-1zM864 283h1v1h-1zM868 286h1v1h-1zM863 283h1v1h-1zM867 280h1v1h-1zM866 278h1v1h-1zM863 278h1v1h-1zM867 280h1v1h-1zM863 278h1v1h-1zM863 289h1v1h-1zM867 292h1v1h-1zM868 286h1v1h-1zM868 279h1v1h-1zM868 284h1v1h-1zM863 290h1v1h-1zM868 284h1v1h-1zM862 292h1v1h-1zM867 287h1v1h-1zM868 278h1v1h-1zM862 279h1v1h-1zM862 289h1v1h-1zM866 279h1v1h-1z"/><rect x="860.50" y="276.30" width="10.00" height="19.50" fill="none" stroke="#262626" stroke-width="1.3"/><polyline points="714.0,80 714.1,84 714.3,88 714.5,92 714.6,96 714.8,100 714.9,104 715.1,108 715.2,112 715.3,116 715.4,120 715.5,124 715.5,128 715.6,132 715.7,136 715.8,140 715.5,144 715.3,148 715.0,152 714.7,156 714.5,160 714.2,164 713.9,168 713.6,172 713.4,176 713.1,180 712.6,184 712.1,188 711.6,192 711.1,196 710.6,200 709.9,204 709.0,208 708.2,212 707.4,216 706.5,220 705.3,224 703.6,228 701.9,232 700.2,236 698.6,240 697.0,244 695.4,248 693.8,252 691.9,256 689.9,260 687.9,264 685.9,268 683.9,272 681.8,276 679.6,280 677.4,284 675.2,288" fill="none" stroke="#262626" stroke-width="1.2"/><line x1="132.60" y1="295.80" x2="132.60" y2="396.20" stroke="#262626" stroke-width="1.15"/><line x1="157.20" y1="295.80" x2="157.20" y2="396.20" stroke="#262626" stroke-width="1.15"/><polyline points="132.6,396 135.7,396 135.7,371.8 154.1,371.8 154.1,396 157.2,396" fill="none" stroke="#262626" stroke-width="1.0"/><rect x="138.30" y="374.60" width="13.20" height="25.00" fill="#fff" stroke="#262626" stroke-width="1.0"/><line x1="135.70" y1="386.60" x2="138.30" y2="386.60" stroke="#262626" stroke-width="0.9"/><line x1="151.50" y1="386.60" x2="154.10" y2="386.60" stroke="#262626" stroke-width="0.9"/><line x1="298.80" y1="295.80" x2="298.80" y2="396.20" stroke="#262626" stroke-width="1.15"/><line x1="323.80" y1="295.80" x2="323.80" y2="396.20" stroke="#262626" stroke-width="1.15"/><polyline points="298.8,396 301.90000000000003,396 301.90000000000003,371.8 320.7,371.8 320.7,396 323.8,396" fill="none" stroke="#262626" stroke-width="1.0"/><rect x="304.50" y="374.60" width="13.60" height="25.00" fill="#fff" stroke="#262626" stroke-width="1.0"/><line x1="301.90" y1="386.60" x2="304.50" y2="386.60" stroke="#262626" stroke-width="0.9"/><line x1="318.10" y1="386.60" x2="320.70" y2="386.60" stroke="#262626" stroke-width="0.9"/><line x1="418.80" y1="295.80" x2="418.80" y2="396.20" stroke="#262626" stroke-width="1.15"/><line x1="443.80" y1="295.80" x2="443.80" y2="396.20" stroke="#262626" stroke-width="1.15"/><polyline points="418.8,396 421.90000000000003,396 421.90000000000003,371.8 440.7,371.8 440.7,396 443.8,396" fill="none" stroke="#262626" stroke-width="1.0"/><rect x="424.50" y="374.60" width="13.60" height="25.00" fill="#fff" stroke="#262626" stroke-width="1.0"/><line x1="421.90" y1="386.60" x2="424.50" y2="386.60" stroke="#262626" stroke-width="0.9"/><line x1="438.10" y1="386.60" x2="440.70" y2="386.60" stroke="#262626" stroke-width="0.9"/><line x1="586.30" y1="295.80" x2="586.30" y2="396.20" stroke="#262626" stroke-width="1.15"/><line x1="611.30" y1="295.80" x2="611.30" y2="396.20" stroke="#262626" stroke-width="1.15"/><polyline points="586.3,396 589.4,396 589.4,371.8 608.1999999999999,371.8 608.1999999999999,396 611.3,396" fill="none" stroke="#262626" stroke-width="1.0"/><rect x="592.00" y="374.60" width="13.60" height="25.00" fill="#fff" stroke="#262626" stroke-width="1.0"/><line x1="589.40" y1="386.60" x2="592.00" y2="386.60" stroke="#262626" stroke-width="0.9"/><line x1="605.60" y1="386.60" x2="608.20" y2="386.60" stroke="#262626" stroke-width="0.9"/><line x1="707.00" y1="295.80" x2="707.00" y2="396.20" stroke="#262626" stroke-width="1.15"/><line x1="731.30" y1="295.80" x2="731.30" y2="396.20" stroke="#262626" stroke-width="1.15"/><polyline points="707,396 710.1,396 710.1,371.8 728.1999999999999,371.8 728.1999999999999,396 731.3,396" fill="none" stroke="#262626" stroke-width="1.0"/><rect x="712.70" y="374.60" width="12.90" height="25.00" fill="#fff" stroke="#262626" stroke-width="1.0"/><line x1="710.10" y1="386.60" x2="712.70" y2="386.60" stroke="#262626" stroke-width="0.9"/><line x1="725.60" y1="386.60" x2="728.20" y2="386.60" stroke="#262626" stroke-width="0.9"/><line x1="872.50" y1="295.80" x2="872.50" y2="396.20" stroke="#262626" stroke-width="1.15"/><line x1="898.00" y1="295.80" x2="898.00" y2="396.20" stroke="#262626" stroke-width="1.15"/><polyline points="872.5,396 875.6,396 875.6,371.8 894.9,371.8 894.9,396 898,396" fill="none" stroke="#262626" stroke-width="1.0"/><rect x="878.20" y="374.60" width="14.10" height="25.00" fill="#fff" stroke="#262626" stroke-width="1.0"/><line x1="875.60" y1="386.60" x2="878.20" y2="386.60" stroke="#262626" stroke-width="0.9"/><line x1="892.30" y1="386.60" x2="894.90" y2="386.60" stroke="#262626" stroke-width="0.9"/><text transform="translate(68.26,65.80) scale(0.1537,0.1500)" font-family="Liberation Serif" font-size="200" fill="#151515">3</text><line x1="76.30" y1="66.60" x2="99.30" y2="149.60" stroke="#262626" stroke-width="1.1"/><text transform="translate(123.16,66.10) scale(0.1229,0.1534)" font-family="Liberation Serif" font-size="200" fill="#151515">B</text><line x1="131.80" y1="66.60" x2="136.00" y2="75.40" stroke="#262626" stroke-width="1.1"/><circle cx="156" cy="99.5" r="31.5" fill="none" stroke="#262626" stroke-width="1.3"/><text transform="translate(299.80,66.30) scale(0.1619,0.1496)" font-family="Liberation Serif" font-size="200" fill="#151515">8</text><line x1="256.20" y1="82.50" x2="303.40" y2="55.20" stroke="#262626" stroke-width="1.1"/><text transform="translate(317.70,82.90) scale(0.1557,0.1565)" font-family="Liberation Serif" font-size="200" fill="#151515">1</text><line x1="327.30" y1="83.70" x2="338.00" y2="124.00" stroke="#262626" stroke-width="1.1"/><text transform="translate(390.19,84.00) scale(0.1064,0.1527)" font-family="Liberation Serif" font-size="200" fill="#151515">A</text><line x1="398.60" y1="82.50" x2="372.50" y2="128.00" stroke="#262626" stroke-width="1.1"/><text transform="translate(578.89,66.91) scale(0.1512,0.1470)" font-family="Liberation Serif" font-size="200" fill="#151515">9</text><line x1="552.50" y1="98.80" x2="585.90" y2="65.60" stroke="#262626" stroke-width="1.1"/><text transform="translate(623.73,67.21) scale(0.1475,0.1474)" font-family="Liberation Serif" font-size="200" fill="#151515">5</text><line x1="632.30" y1="67.50" x2="602.50" y2="182.00" stroke="#262626" stroke-width="1.1"/><text transform="translate(5.99,152.60) scale(0.1675,0.1500)" font-family="Liberation Serif" font-size="200" fill="#151515">2</text><line x1="19.60" y1="142.10" x2="50.30" y2="160.00" stroke="#262626" stroke-width="1.1"/><text transform="translate(7.57,194.45) scale(0.1333,0.1492)" font-family="Liberation Serif" font-size="200" fill="#151515">7</text><line x1="20.10" y1="184.30" x2="110.00" y2="209.00" stroke="#262626" stroke-width="1.1"/><text transform="translate(74.88,350.60) scale(0.1455,0.1489)" font-family="Liberation Serif" font-size="200" fill="#151515">17</text><line x1="101.20" y1="338.50" x2="132.40" y2="356.70" stroke="#262626" stroke-width="1.1"/><text transform="translate(176.24,417.30) scale(0.1506,0.1493)" font-family="Liberation Serif" font-size="200" fill="#151515">6</text><line x1="182.70" y1="396.70" x2="224.20" y2="239.60" stroke="#262626" stroke-width="1.1"/></svg></body></html>
